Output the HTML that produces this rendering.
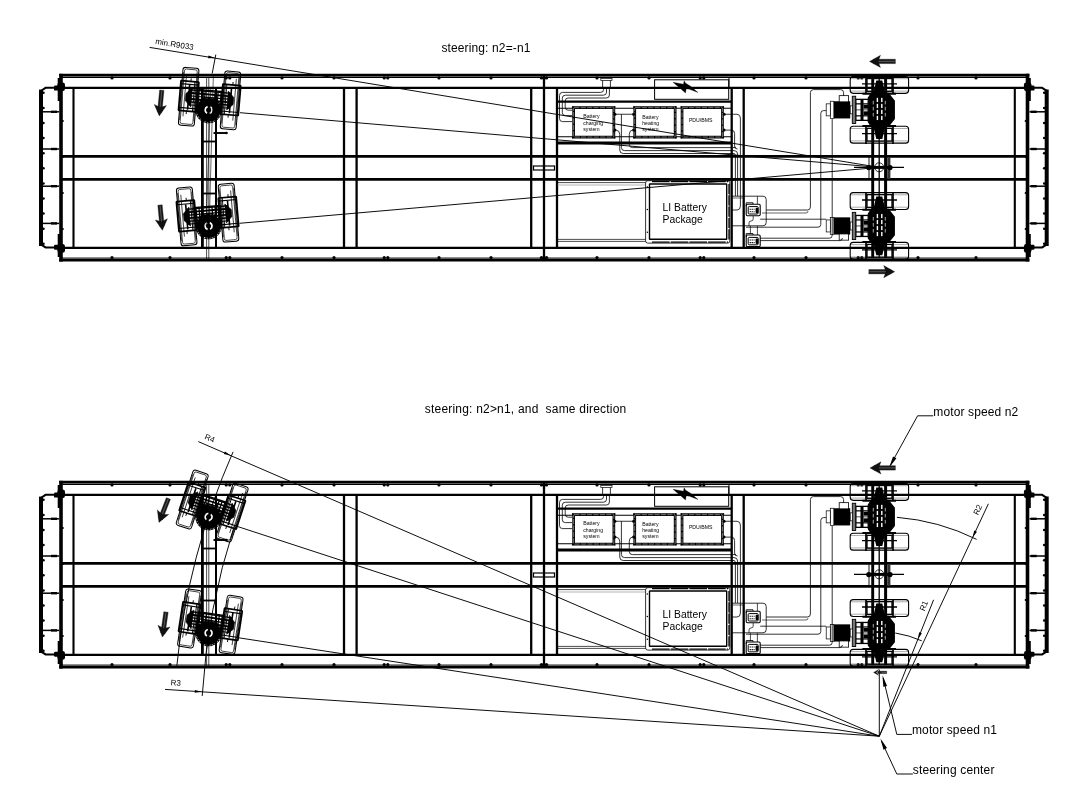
<!DOCTYPE html>
<html><head><meta charset="utf-8"><title>steering</title>
<style>html,body{margin:0;padding:0;background:#fff}svg{display:block;filter:grayscale(1)}</style></head>
<body>
<svg width="1080" height="795" viewBox="0 0 1080 795" font-family="'Liberation Sans', Arial, sans-serif" fill="#000">
<rect width="1080" height="795" fill="#fff"/>
<g transform="translate(0 0)">
<line x1="59.20" y1="75.10" x2="1029.40" y2="75.10" stroke="#000" stroke-width="2.6" />
<line x1="61.00" y1="77.30" x2="1027.50" y2="77.30" stroke="#000" stroke-width="1.2" />
<line x1="59.20" y1="260.30" x2="1029.40" y2="260.30" stroke="#000" stroke-width="2.6" />
<line x1="61.00" y1="258.10" x2="1027.50" y2="258.10" stroke="#222" stroke-width="1.2" />
<line x1="61.00" y1="73.80" x2="61.00" y2="261.60" stroke="#000" stroke-width="3.6" />
<line x1="1027.50" y1="73.80" x2="1027.50" y2="261.60" stroke="#000" stroke-width="3.6" />
<line x1="61.00" y1="87.85" x2="1027.50" y2="87.85" stroke="#000" stroke-width="2.2" />
<line x1="61.00" y1="247.95" x2="1027.50" y2="247.95" stroke="#000" stroke-width="2.2" />
<line x1="61.00" y1="156.40" x2="1027.50" y2="156.40" stroke="#000" stroke-width="2.9" />
<line x1="61.00" y1="179.40" x2="1027.50" y2="179.40" stroke="#000" stroke-width="2.9" />
<line x1="73.50" y1="87.85" x2="73.50" y2="247.95" stroke="#000" stroke-width="2.1" />
<line x1="1014.80" y1="87.85" x2="1014.80" y2="247.95" stroke="#000" stroke-width="2.1" />
<line x1="344.00" y1="87.85" x2="344.00" y2="247.95" stroke="#000" stroke-width="2.3" />
<line x1="356.60" y1="87.85" x2="356.60" y2="247.95" stroke="#000" stroke-width="2.3" />
<line x1="531.20" y1="87.85" x2="531.20" y2="247.95" stroke="#000" stroke-width="2.3" />
<line x1="557.00" y1="87.85" x2="557.00" y2="247.95" stroke="#000" stroke-width="2.3" />
<line x1="731.70" y1="87.85" x2="731.70" y2="247.95" stroke="#000" stroke-width="2.3" />
<line x1="743.70" y1="87.85" x2="743.70" y2="247.95" stroke="#000" stroke-width="2.3" />
<line x1="544.00" y1="75.60" x2="544.00" y2="260.00" stroke="#000" stroke-width="2.3" />
<circle cx="491.00" cy="77.90" r="1.6" fill="#000" stroke="#000" stroke-width="0"/>
<circle cx="491.00" cy="257.60" r="1.6" fill="#000" stroke="#000" stroke-width="0"/>
<circle cx="597.00" cy="77.90" r="1.6" fill="#000" stroke="#000" stroke-width="0"/>
<circle cx="597.00" cy="257.60" r="1.6" fill="#000" stroke="#000" stroke-width="0"/>
<circle cx="439.00" cy="77.90" r="1.6" fill="#000" stroke="#000" stroke-width="0"/>
<circle cx="439.00" cy="257.60" r="1.6" fill="#000" stroke="#000" stroke-width="0"/>
<circle cx="649.00" cy="77.90" r="1.6" fill="#000" stroke="#000" stroke-width="0"/>
<circle cx="649.00" cy="257.60" r="1.6" fill="#000" stroke="#000" stroke-width="0"/>
<circle cx="334.00" cy="77.90" r="1.6" fill="#000" stroke="#000" stroke-width="0"/>
<circle cx="334.00" cy="257.60" r="1.6" fill="#000" stroke="#000" stroke-width="0"/>
<circle cx="754.00" cy="77.90" r="1.6" fill="#000" stroke="#000" stroke-width="0"/>
<circle cx="754.00" cy="257.60" r="1.6" fill="#000" stroke="#000" stroke-width="0"/>
<circle cx="282.00" cy="77.90" r="1.6" fill="#000" stroke="#000" stroke-width="0"/>
<circle cx="282.00" cy="257.60" r="1.6" fill="#000" stroke="#000" stroke-width="0"/>
<circle cx="806.00" cy="77.90" r="1.6" fill="#000" stroke="#000" stroke-width="0"/>
<circle cx="806.00" cy="257.60" r="1.6" fill="#000" stroke="#000" stroke-width="0"/>
<circle cx="170.00" cy="77.90" r="1.6" fill="#000" stroke="#000" stroke-width="0"/>
<circle cx="170.00" cy="257.60" r="1.6" fill="#000" stroke="#000" stroke-width="0"/>
<circle cx="918.00" cy="77.90" r="1.6" fill="#000" stroke="#000" stroke-width="0"/>
<circle cx="918.00" cy="257.60" r="1.6" fill="#000" stroke="#000" stroke-width="0"/>
<circle cx="112.00" cy="77.90" r="1.6" fill="#000" stroke="#000" stroke-width="0"/>
<circle cx="112.00" cy="257.60" r="1.6" fill="#000" stroke="#000" stroke-width="0"/>
<circle cx="976.00" cy="77.90" r="1.6" fill="#000" stroke="#000" stroke-width="0"/>
<circle cx="976.00" cy="257.60" r="1.6" fill="#000" stroke="#000" stroke-width="0"/>
<circle cx="384.20" cy="77.90" r="1.6" fill="#000" stroke="#000" stroke-width="0"/>
<circle cx="387.80" cy="77.90" r="1.6" fill="#000" stroke="#000" stroke-width="0"/>
<circle cx="384.20" cy="257.60" r="1.6" fill="#000" stroke="#000" stroke-width="0"/>
<circle cx="387.80" cy="257.60" r="1.6" fill="#000" stroke="#000" stroke-width="0"/>
<circle cx="700.20" cy="77.90" r="1.6" fill="#000" stroke="#000" stroke-width="0"/>
<circle cx="703.80" cy="77.90" r="1.6" fill="#000" stroke="#000" stroke-width="0"/>
<circle cx="700.20" cy="257.60" r="1.6" fill="#000" stroke="#000" stroke-width="0"/>
<circle cx="703.80" cy="257.60" r="1.6" fill="#000" stroke="#000" stroke-width="0"/>
<circle cx="226.20" cy="77.90" r="1.6" fill="#000" stroke="#000" stroke-width="0"/>
<circle cx="229.80" cy="77.90" r="1.6" fill="#000" stroke="#000" stroke-width="0"/>
<circle cx="226.20" cy="257.60" r="1.6" fill="#000" stroke="#000" stroke-width="0"/>
<circle cx="229.80" cy="257.60" r="1.6" fill="#000" stroke="#000" stroke-width="0"/>
<circle cx="858.20" cy="77.90" r="1.6" fill="#000" stroke="#000" stroke-width="0"/>
<circle cx="861.80" cy="77.90" r="1.6" fill="#000" stroke="#000" stroke-width="0"/>
<circle cx="858.20" cy="257.60" r="1.6" fill="#000" stroke="#000" stroke-width="0"/>
<circle cx="861.80" cy="257.60" r="1.6" fill="#000" stroke="#000" stroke-width="0"/>
<circle cx="541.50" cy="77.90" r="1.7" fill="#000" stroke="#000" stroke-width="0"/>
<circle cx="546.50" cy="77.90" r="1.7" fill="#000" stroke="#000" stroke-width="0"/>
<circle cx="541.50" cy="257.60" r="1.7" fill="#000" stroke="#000" stroke-width="0"/>
<circle cx="546.50" cy="257.60" r="1.7" fill="#000" stroke="#000" stroke-width="0"/>
<line x1="41.00" y1="89.60" x2="41.00" y2="246.00" stroke="#000" stroke-width="4.0" />
<path d="M61,87.8 H45.6 L40.0,91.5" fill="none" stroke="#000" stroke-width="2.0" />
<path d="M61,247.4 H45.6 L40.0,243.8" fill="none" stroke="#000" stroke-width="2.0" />
<line x1="41.00" y1="111.80" x2="59.00" y2="111.80" stroke="#000" stroke-width="1.5" />
<line x1="51.00" y1="111.80" x2="57.00" y2="111.80" stroke="#000" stroke-width="2.4" />
<line x1="41.00" y1="149.00" x2="59.00" y2="149.00" stroke="#000" stroke-width="1.5" />
<line x1="51.00" y1="149.00" x2="57.00" y2="149.00" stroke="#000" stroke-width="2.4" />
<line x1="41.00" y1="186.20" x2="59.00" y2="186.20" stroke="#000" stroke-width="1.5" />
<line x1="51.00" y1="186.20" x2="57.00" y2="186.20" stroke="#000" stroke-width="2.4" />
<line x1="41.00" y1="223.40" x2="59.00" y2="223.40" stroke="#000" stroke-width="1.5" />
<line x1="51.00" y1="223.40" x2="57.00" y2="223.40" stroke="#000" stroke-width="2.4" />
<circle cx="43.50" cy="92.80" r="1.25" fill="#000" stroke="#000" stroke-width="0"/>
<circle cx="43.50" cy="107.90" r="1.25" fill="#000" stroke="#000" stroke-width="0"/>
<circle cx="43.50" cy="123.00" r="1.25" fill="#000" stroke="#000" stroke-width="0"/>
<circle cx="43.50" cy="138.10" r="1.25" fill="#000" stroke="#000" stroke-width="0"/>
<circle cx="43.50" cy="153.20" r="1.25" fill="#000" stroke="#000" stroke-width="0"/>
<circle cx="43.50" cy="168.30" r="1.25" fill="#000" stroke="#000" stroke-width="0"/>
<circle cx="43.50" cy="183.40" r="1.25" fill="#000" stroke="#000" stroke-width="0"/>
<circle cx="43.50" cy="198.50" r="1.25" fill="#000" stroke="#000" stroke-width="0"/>
<circle cx="43.50" cy="213.60" r="1.25" fill="#000" stroke="#000" stroke-width="0"/>
<circle cx="43.50" cy="228.70" r="1.25" fill="#000" stroke="#000" stroke-width="0"/>
<circle cx="43.50" cy="243.80" r="1.25" fill="#000" stroke="#000" stroke-width="0"/>
<circle cx="62.90" cy="121.00" r="1.0" fill="#000" stroke="#000" stroke-width="0"/>
<circle cx="62.90" cy="157.00" r="1.0" fill="#000" stroke="#000" stroke-width="0"/>
<circle cx="62.90" cy="193.00" r="1.0" fill="#000" stroke="#000" stroke-width="0"/>
<circle cx="62.90" cy="229.00" r="1.0" fill="#000" stroke="#000" stroke-width="0"/>
<rect x="57.40" y="82.40" width="7.60" height="8.80" rx="2.4" fill="#000" stroke="#000" stroke-width="0" />
<rect x="57.40" y="244.00" width="7.60" height="8.80" rx="2.4" fill="#000" stroke="#000" stroke-width="0" />
<rect x="54.00" y="85.60" width="6.00" height="5.00" rx="1.2" fill="#000" stroke="#000" stroke-width="0" />
<rect x="54.00" y="244.80" width="6.00" height="5.00" rx="1.2" fill="#000" stroke="#000" stroke-width="0" />
<line x1="59.80" y1="78.00" x2="59.80" y2="101.00" stroke="#000" stroke-width="4.2" />
<line x1="59.80" y1="234.00" x2="59.80" y2="257.00" stroke="#000" stroke-width="4.2" />
<line x1="1046.70" y1="89.60" x2="1046.70" y2="246.00" stroke="#000" stroke-width="4.0" />
<path d="M1027.5,87.8 H1042.1000000000001 L1047.7,91.5" fill="none" stroke="#000" stroke-width="2.0" />
<path d="M1027.5,247.4 H1042.1000000000001 L1047.7,243.8" fill="none" stroke="#000" stroke-width="2.0" />
<line x1="1046.70" y1="111.80" x2="1029.50" y2="111.80" stroke="#000" stroke-width="1.5" />
<line x1="1036.70" y1="111.80" x2="1030.70" y2="111.80" stroke="#000" stroke-width="2.4" />
<line x1="1046.70" y1="149.00" x2="1029.50" y2="149.00" stroke="#000" stroke-width="1.5" />
<line x1="1036.70" y1="149.00" x2="1030.70" y2="149.00" stroke="#000" stroke-width="2.4" />
<line x1="1046.70" y1="186.20" x2="1029.50" y2="186.20" stroke="#000" stroke-width="1.5" />
<line x1="1036.70" y1="186.20" x2="1030.70" y2="186.20" stroke="#000" stroke-width="2.4" />
<line x1="1046.70" y1="223.40" x2="1029.50" y2="223.40" stroke="#000" stroke-width="1.5" />
<line x1="1036.70" y1="223.40" x2="1030.70" y2="223.40" stroke="#000" stroke-width="2.4" />
<circle cx="1044.20" cy="92.80" r="1.25" fill="#000" stroke="#000" stroke-width="0"/>
<circle cx="1044.20" cy="107.90" r="1.25" fill="#000" stroke="#000" stroke-width="0"/>
<circle cx="1044.20" cy="123.00" r="1.25" fill="#000" stroke="#000" stroke-width="0"/>
<circle cx="1044.20" cy="138.10" r="1.25" fill="#000" stroke="#000" stroke-width="0"/>
<circle cx="1044.20" cy="153.20" r="1.25" fill="#000" stroke="#000" stroke-width="0"/>
<circle cx="1044.20" cy="168.30" r="1.25" fill="#000" stroke="#000" stroke-width="0"/>
<circle cx="1044.20" cy="183.40" r="1.25" fill="#000" stroke="#000" stroke-width="0"/>
<circle cx="1044.20" cy="198.50" r="1.25" fill="#000" stroke="#000" stroke-width="0"/>
<circle cx="1044.20" cy="213.60" r="1.25" fill="#000" stroke="#000" stroke-width="0"/>
<circle cx="1044.20" cy="228.70" r="1.25" fill="#000" stroke="#000" stroke-width="0"/>
<circle cx="1044.20" cy="243.80" r="1.25" fill="#000" stroke="#000" stroke-width="0"/>
<circle cx="1025.60" cy="121.00" r="1.0" fill="#000" stroke="#000" stroke-width="0"/>
<circle cx="1025.60" cy="157.00" r="1.0" fill="#000" stroke="#000" stroke-width="0"/>
<circle cx="1025.60" cy="193.00" r="1.0" fill="#000" stroke="#000" stroke-width="0"/>
<circle cx="1025.60" cy="229.00" r="1.0" fill="#000" stroke="#000" stroke-width="0"/>
<rect x="1023.90" y="82.40" width="7.60" height="8.80" rx="2.4" fill="#000" stroke="#000" stroke-width="0" />
<rect x="1023.90" y="244.00" width="7.60" height="8.80" rx="2.4" fill="#000" stroke="#000" stroke-width="0" />
<rect x="1028.50" y="85.60" width="6.00" height="5.00" rx="1.2" fill="#000" stroke="#000" stroke-width="0" />
<rect x="1028.50" y="244.80" width="6.00" height="5.00" rx="1.2" fill="#000" stroke="#000" stroke-width="0" />
<line x1="1028.70" y1="78.00" x2="1028.70" y2="101.00" stroke="#000" stroke-width="4.2" />
<line x1="1028.70" y1="234.00" x2="1028.70" y2="257.00" stroke="#000" stroke-width="4.2" />
<rect x="533.50" y="166.00" width="21.00" height="4.00" rx="0" fill="none" stroke="#000" stroke-width="1.2" />
</g>
<g transform="translate(0 407)">
<line x1="59.20" y1="75.10" x2="1029.40" y2="75.10" stroke="#000" stroke-width="2.6" />
<line x1="61.00" y1="77.30" x2="1027.50" y2="77.30" stroke="#000" stroke-width="1.2" />
<line x1="59.20" y1="260.30" x2="1029.40" y2="260.30" stroke="#000" stroke-width="2.6" />
<line x1="61.00" y1="258.10" x2="1027.50" y2="258.10" stroke="#222" stroke-width="1.2" />
<line x1="61.00" y1="73.80" x2="61.00" y2="261.60" stroke="#000" stroke-width="3.6" />
<line x1="1027.50" y1="73.80" x2="1027.50" y2="261.60" stroke="#000" stroke-width="3.6" />
<line x1="61.00" y1="87.85" x2="1027.50" y2="87.85" stroke="#000" stroke-width="2.2" />
<line x1="61.00" y1="247.95" x2="1027.50" y2="247.95" stroke="#000" stroke-width="2.2" />
<line x1="61.00" y1="156.40" x2="1027.50" y2="156.40" stroke="#000" stroke-width="2.9" />
<line x1="61.00" y1="179.40" x2="1027.50" y2="179.40" stroke="#000" stroke-width="2.9" />
<line x1="73.50" y1="87.85" x2="73.50" y2="247.95" stroke="#000" stroke-width="2.1" />
<line x1="1014.80" y1="87.85" x2="1014.80" y2="247.95" stroke="#000" stroke-width="2.1" />
<line x1="344.00" y1="87.85" x2="344.00" y2="247.95" stroke="#000" stroke-width="2.3" />
<line x1="356.60" y1="87.85" x2="356.60" y2="247.95" stroke="#000" stroke-width="2.3" />
<line x1="531.20" y1="87.85" x2="531.20" y2="247.95" stroke="#000" stroke-width="2.3" />
<line x1="557.00" y1="87.85" x2="557.00" y2="247.95" stroke="#000" stroke-width="2.3" />
<line x1="731.70" y1="87.85" x2="731.70" y2="247.95" stroke="#000" stroke-width="2.3" />
<line x1="743.70" y1="87.85" x2="743.70" y2="247.95" stroke="#000" stroke-width="2.3" />
<line x1="544.00" y1="75.60" x2="544.00" y2="260.00" stroke="#000" stroke-width="2.3" />
<circle cx="491.00" cy="77.90" r="1.6" fill="#000" stroke="#000" stroke-width="0"/>
<circle cx="491.00" cy="257.60" r="1.6" fill="#000" stroke="#000" stroke-width="0"/>
<circle cx="597.00" cy="77.90" r="1.6" fill="#000" stroke="#000" stroke-width="0"/>
<circle cx="597.00" cy="257.60" r="1.6" fill="#000" stroke="#000" stroke-width="0"/>
<circle cx="439.00" cy="77.90" r="1.6" fill="#000" stroke="#000" stroke-width="0"/>
<circle cx="439.00" cy="257.60" r="1.6" fill="#000" stroke="#000" stroke-width="0"/>
<circle cx="649.00" cy="77.90" r="1.6" fill="#000" stroke="#000" stroke-width="0"/>
<circle cx="649.00" cy="257.60" r="1.6" fill="#000" stroke="#000" stroke-width="0"/>
<circle cx="334.00" cy="77.90" r="1.6" fill="#000" stroke="#000" stroke-width="0"/>
<circle cx="334.00" cy="257.60" r="1.6" fill="#000" stroke="#000" stroke-width="0"/>
<circle cx="754.00" cy="77.90" r="1.6" fill="#000" stroke="#000" stroke-width="0"/>
<circle cx="754.00" cy="257.60" r="1.6" fill="#000" stroke="#000" stroke-width="0"/>
<circle cx="282.00" cy="77.90" r="1.6" fill="#000" stroke="#000" stroke-width="0"/>
<circle cx="282.00" cy="257.60" r="1.6" fill="#000" stroke="#000" stroke-width="0"/>
<circle cx="806.00" cy="77.90" r="1.6" fill="#000" stroke="#000" stroke-width="0"/>
<circle cx="806.00" cy="257.60" r="1.6" fill="#000" stroke="#000" stroke-width="0"/>
<circle cx="170.00" cy="77.90" r="1.6" fill="#000" stroke="#000" stroke-width="0"/>
<circle cx="170.00" cy="257.60" r="1.6" fill="#000" stroke="#000" stroke-width="0"/>
<circle cx="918.00" cy="77.90" r="1.6" fill="#000" stroke="#000" stroke-width="0"/>
<circle cx="918.00" cy="257.60" r="1.6" fill="#000" stroke="#000" stroke-width="0"/>
<circle cx="112.00" cy="77.90" r="1.6" fill="#000" stroke="#000" stroke-width="0"/>
<circle cx="112.00" cy="257.60" r="1.6" fill="#000" stroke="#000" stroke-width="0"/>
<circle cx="976.00" cy="77.90" r="1.6" fill="#000" stroke="#000" stroke-width="0"/>
<circle cx="976.00" cy="257.60" r="1.6" fill="#000" stroke="#000" stroke-width="0"/>
<circle cx="384.20" cy="77.90" r="1.6" fill="#000" stroke="#000" stroke-width="0"/>
<circle cx="387.80" cy="77.90" r="1.6" fill="#000" stroke="#000" stroke-width="0"/>
<circle cx="384.20" cy="257.60" r="1.6" fill="#000" stroke="#000" stroke-width="0"/>
<circle cx="387.80" cy="257.60" r="1.6" fill="#000" stroke="#000" stroke-width="0"/>
<circle cx="700.20" cy="77.90" r="1.6" fill="#000" stroke="#000" stroke-width="0"/>
<circle cx="703.80" cy="77.90" r="1.6" fill="#000" stroke="#000" stroke-width="0"/>
<circle cx="700.20" cy="257.60" r="1.6" fill="#000" stroke="#000" stroke-width="0"/>
<circle cx="703.80" cy="257.60" r="1.6" fill="#000" stroke="#000" stroke-width="0"/>
<circle cx="226.20" cy="77.90" r="1.6" fill="#000" stroke="#000" stroke-width="0"/>
<circle cx="229.80" cy="77.90" r="1.6" fill="#000" stroke="#000" stroke-width="0"/>
<circle cx="226.20" cy="257.60" r="1.6" fill="#000" stroke="#000" stroke-width="0"/>
<circle cx="229.80" cy="257.60" r="1.6" fill="#000" stroke="#000" stroke-width="0"/>
<circle cx="858.20" cy="77.90" r="1.6" fill="#000" stroke="#000" stroke-width="0"/>
<circle cx="861.80" cy="77.90" r="1.6" fill="#000" stroke="#000" stroke-width="0"/>
<circle cx="858.20" cy="257.60" r="1.6" fill="#000" stroke="#000" stroke-width="0"/>
<circle cx="861.80" cy="257.60" r="1.6" fill="#000" stroke="#000" stroke-width="0"/>
<circle cx="541.50" cy="77.90" r="1.7" fill="#000" stroke="#000" stroke-width="0"/>
<circle cx="546.50" cy="77.90" r="1.7" fill="#000" stroke="#000" stroke-width="0"/>
<circle cx="541.50" cy="257.60" r="1.7" fill="#000" stroke="#000" stroke-width="0"/>
<circle cx="546.50" cy="257.60" r="1.7" fill="#000" stroke="#000" stroke-width="0"/>
<line x1="41.00" y1="89.60" x2="41.00" y2="246.00" stroke="#000" stroke-width="4.0" />
<path d="M61,87.8 H45.6 L40.0,91.5" fill="none" stroke="#000" stroke-width="2.0" />
<path d="M61,247.4 H45.6 L40.0,243.8" fill="none" stroke="#000" stroke-width="2.0" />
<line x1="41.00" y1="111.80" x2="59.00" y2="111.80" stroke="#000" stroke-width="1.5" />
<line x1="51.00" y1="111.80" x2="57.00" y2="111.80" stroke="#000" stroke-width="2.4" />
<line x1="41.00" y1="149.00" x2="59.00" y2="149.00" stroke="#000" stroke-width="1.5" />
<line x1="51.00" y1="149.00" x2="57.00" y2="149.00" stroke="#000" stroke-width="2.4" />
<line x1="41.00" y1="186.20" x2="59.00" y2="186.20" stroke="#000" stroke-width="1.5" />
<line x1="51.00" y1="186.20" x2="57.00" y2="186.20" stroke="#000" stroke-width="2.4" />
<line x1="41.00" y1="223.40" x2="59.00" y2="223.40" stroke="#000" stroke-width="1.5" />
<line x1="51.00" y1="223.40" x2="57.00" y2="223.40" stroke="#000" stroke-width="2.4" />
<circle cx="43.50" cy="92.80" r="1.25" fill="#000" stroke="#000" stroke-width="0"/>
<circle cx="43.50" cy="107.90" r="1.25" fill="#000" stroke="#000" stroke-width="0"/>
<circle cx="43.50" cy="123.00" r="1.25" fill="#000" stroke="#000" stroke-width="0"/>
<circle cx="43.50" cy="138.10" r="1.25" fill="#000" stroke="#000" stroke-width="0"/>
<circle cx="43.50" cy="153.20" r="1.25" fill="#000" stroke="#000" stroke-width="0"/>
<circle cx="43.50" cy="168.30" r="1.25" fill="#000" stroke="#000" stroke-width="0"/>
<circle cx="43.50" cy="183.40" r="1.25" fill="#000" stroke="#000" stroke-width="0"/>
<circle cx="43.50" cy="198.50" r="1.25" fill="#000" stroke="#000" stroke-width="0"/>
<circle cx="43.50" cy="213.60" r="1.25" fill="#000" stroke="#000" stroke-width="0"/>
<circle cx="43.50" cy="228.70" r="1.25" fill="#000" stroke="#000" stroke-width="0"/>
<circle cx="43.50" cy="243.80" r="1.25" fill="#000" stroke="#000" stroke-width="0"/>
<circle cx="62.90" cy="121.00" r="1.0" fill="#000" stroke="#000" stroke-width="0"/>
<circle cx="62.90" cy="157.00" r="1.0" fill="#000" stroke="#000" stroke-width="0"/>
<circle cx="62.90" cy="193.00" r="1.0" fill="#000" stroke="#000" stroke-width="0"/>
<circle cx="62.90" cy="229.00" r="1.0" fill="#000" stroke="#000" stroke-width="0"/>
<rect x="57.40" y="82.40" width="7.60" height="8.80" rx="2.4" fill="#000" stroke="#000" stroke-width="0" />
<rect x="57.40" y="244.00" width="7.60" height="8.80" rx="2.4" fill="#000" stroke="#000" stroke-width="0" />
<rect x="54.00" y="85.60" width="6.00" height="5.00" rx="1.2" fill="#000" stroke="#000" stroke-width="0" />
<rect x="54.00" y="244.80" width="6.00" height="5.00" rx="1.2" fill="#000" stroke="#000" stroke-width="0" />
<line x1="59.80" y1="78.00" x2="59.80" y2="101.00" stroke="#000" stroke-width="4.2" />
<line x1="59.80" y1="234.00" x2="59.80" y2="257.00" stroke="#000" stroke-width="4.2" />
<line x1="1046.70" y1="89.60" x2="1046.70" y2="246.00" stroke="#000" stroke-width="4.0" />
<path d="M1027.5,87.8 H1042.1000000000001 L1047.7,91.5" fill="none" stroke="#000" stroke-width="2.0" />
<path d="M1027.5,247.4 H1042.1000000000001 L1047.7,243.8" fill="none" stroke="#000" stroke-width="2.0" />
<line x1="1046.70" y1="111.80" x2="1029.50" y2="111.80" stroke="#000" stroke-width="1.5" />
<line x1="1036.70" y1="111.80" x2="1030.70" y2="111.80" stroke="#000" stroke-width="2.4" />
<line x1="1046.70" y1="149.00" x2="1029.50" y2="149.00" stroke="#000" stroke-width="1.5" />
<line x1="1036.70" y1="149.00" x2="1030.70" y2="149.00" stroke="#000" stroke-width="2.4" />
<line x1="1046.70" y1="186.20" x2="1029.50" y2="186.20" stroke="#000" stroke-width="1.5" />
<line x1="1036.70" y1="186.20" x2="1030.70" y2="186.20" stroke="#000" stroke-width="2.4" />
<line x1="1046.70" y1="223.40" x2="1029.50" y2="223.40" stroke="#000" stroke-width="1.5" />
<line x1="1036.70" y1="223.40" x2="1030.70" y2="223.40" stroke="#000" stroke-width="2.4" />
<circle cx="1044.20" cy="92.80" r="1.25" fill="#000" stroke="#000" stroke-width="0"/>
<circle cx="1044.20" cy="107.90" r="1.25" fill="#000" stroke="#000" stroke-width="0"/>
<circle cx="1044.20" cy="123.00" r="1.25" fill="#000" stroke="#000" stroke-width="0"/>
<circle cx="1044.20" cy="138.10" r="1.25" fill="#000" stroke="#000" stroke-width="0"/>
<circle cx="1044.20" cy="153.20" r="1.25" fill="#000" stroke="#000" stroke-width="0"/>
<circle cx="1044.20" cy="168.30" r="1.25" fill="#000" stroke="#000" stroke-width="0"/>
<circle cx="1044.20" cy="183.40" r="1.25" fill="#000" stroke="#000" stroke-width="0"/>
<circle cx="1044.20" cy="198.50" r="1.25" fill="#000" stroke="#000" stroke-width="0"/>
<circle cx="1044.20" cy="213.60" r="1.25" fill="#000" stroke="#000" stroke-width="0"/>
<circle cx="1044.20" cy="228.70" r="1.25" fill="#000" stroke="#000" stroke-width="0"/>
<circle cx="1044.20" cy="243.80" r="1.25" fill="#000" stroke="#000" stroke-width="0"/>
<circle cx="1025.60" cy="121.00" r="1.0" fill="#000" stroke="#000" stroke-width="0"/>
<circle cx="1025.60" cy="157.00" r="1.0" fill="#000" stroke="#000" stroke-width="0"/>
<circle cx="1025.60" cy="193.00" r="1.0" fill="#000" stroke="#000" stroke-width="0"/>
<circle cx="1025.60" cy="229.00" r="1.0" fill="#000" stroke="#000" stroke-width="0"/>
<rect x="1023.90" y="82.40" width="7.60" height="8.80" rx="2.4" fill="#000" stroke="#000" stroke-width="0" />
<rect x="1023.90" y="244.00" width="7.60" height="8.80" rx="2.4" fill="#000" stroke="#000" stroke-width="0" />
<rect x="1028.50" y="85.60" width="6.00" height="5.00" rx="1.2" fill="#000" stroke="#000" stroke-width="0" />
<rect x="1028.50" y="244.80" width="6.00" height="5.00" rx="1.2" fill="#000" stroke="#000" stroke-width="0" />
<line x1="1028.70" y1="78.00" x2="1028.70" y2="101.00" stroke="#000" stroke-width="4.2" />
<line x1="1028.70" y1="234.00" x2="1028.70" y2="257.00" stroke="#000" stroke-width="4.2" />
<rect x="533.50" y="166.00" width="21.00" height="4.00" rx="0" fill="none" stroke="#000" stroke-width="1.2" />
</g>
<g transform="translate(0 0)">
<line x1="202.40" y1="87.00" x2="202.40" y2="247.80" stroke="#000" stroke-width="2.8" />
<line x1="216.00" y1="87.00" x2="216.00" y2="247.80" stroke="#000" stroke-width="2.0" />
<line x1="206.60" y1="77.00" x2="206.60" y2="259.00" stroke="#000" stroke-width="0.7" />
<line x1="208.80" y1="77.00" x2="208.80" y2="259.00" stroke="#000" stroke-width="0.7" />
<line x1="203.00" y1="141.50" x2="216.00" y2="141.50" stroke="#000" stroke-width="1.8" />
<line x1="203.00" y1="193.50" x2="216.00" y2="193.50" stroke="#000" stroke-width="1.8" />
<line x1="213.50" y1="133.00" x2="227.00" y2="133.00" stroke="#000" stroke-width="1.9" />
<circle cx="226.50" cy="133.00" r="1.3" fill="#000" stroke="#000" stroke-width="0"/>
</g>
<g transform="translate(0 0)">
<line x1="872.70" y1="78.00" x2="872.70" y2="258.00" stroke="#000" stroke-width="2.9" />
<line x1="879.20" y1="78.00" x2="879.20" y2="258.00" stroke="#000" stroke-width="1.3" />
<line x1="885.60" y1="78.00" x2="885.60" y2="258.00" stroke="#000" stroke-width="3.0" />
<rect x="850.20" y="76.50" width="58.40" height="16.85" rx="3" fill="none" stroke="#000" stroke-width="1.1" />
<line x1="851.00" y1="78.70" x2="907.80" y2="78.70" stroke="#555" stroke-width="0.5" />
<line x1="851.00" y1="91.10" x2="907.80" y2="91.10" stroke="#555" stroke-width="0.5" />
<line x1="866.00" y1="76.00" x2="866.00" y2="94.10" stroke="#000" stroke-width="1.7" />
<line x1="893.00" y1="76.00" x2="893.00" y2="94.10" stroke="#000" stroke-width="1.7" />
<line x1="862.00" y1="83.90" x2="897.00" y2="83.90" stroke="#000" stroke-width="1.3" />
<line x1="862.40" y1="93.70" x2="896.00" y2="93.70" stroke="#000" stroke-width="2.0" />
<rect x="867.00" y="78.50" width="25.00" height="12.80" rx="0" fill="none" stroke="#000" stroke-width="1.3" />
<path d="M873.3,93.35 L876.3,80.5 H882.3 L885.3,93.35 Z" fill="#000" stroke="#000" stroke-width="0" />
<rect x="850.20" y="126.30" width="58.40" height="16.85" rx="3" fill="none" stroke="#000" stroke-width="1.1" />
<line x1="851.00" y1="128.50" x2="907.80" y2="128.50" stroke="#555" stroke-width="0.5" />
<line x1="851.00" y1="140.90" x2="907.80" y2="140.90" stroke="#555" stroke-width="0.5" />
<line x1="866.00" y1="125.80" x2="866.00" y2="143.90" stroke="#000" stroke-width="1.7" />
<line x1="893.00" y1="125.80" x2="893.00" y2="143.90" stroke="#000" stroke-width="1.7" />
<line x1="862.00" y1="133.70" x2="897.00" y2="133.70" stroke="#000" stroke-width="1.3" />
<line x1="862.40" y1="126.00" x2="896.00" y2="126.00" stroke="#000" stroke-width="2.0" />
<rect x="867.00" y="128.30" width="25.00" height="12.80" rx="0" fill="none" stroke="#000" stroke-width="1.3" />
<path d="M873.3,126.3 L876.3,139.1 H882.3 L885.3,126.3 Z" fill="#000" stroke="#000" stroke-width="0" />
<path d="M871.3,93.35 H888.3 L894.3,100.85 V118.85 L888.3,126.35 H871.3 L868.3,121.85 V97.85 Z" fill="#000" stroke="#000" stroke-width="1.2" />
<rect x="876.70" y="97.85" width="1.40" height="4.20" rx="0" fill="#fff" stroke="#000" stroke-width="0" />
<rect x="876.70" y="103.85" width="1.40" height="4.20" rx="0" fill="#fff" stroke="#000" stroke-width="0" />
<rect x="876.70" y="109.85" width="1.40" height="4.20" rx="0" fill="#fff" stroke="#000" stroke-width="0" />
<rect x="876.70" y="115.85" width="1.40" height="4.20" rx="0" fill="#fff" stroke="#000" stroke-width="0" />
<rect x="881.10" y="97.85" width="1.40" height="4.20" rx="0" fill="#fff" stroke="#000" stroke-width="0" />
<rect x="881.10" y="103.85" width="1.40" height="4.20" rx="0" fill="#fff" stroke="#000" stroke-width="0" />
<rect x="881.10" y="109.85" width="1.40" height="4.20" rx="0" fill="#fff" stroke="#000" stroke-width="0" />
<rect x="881.10" y="115.85" width="1.40" height="4.20" rx="0" fill="#fff" stroke="#000" stroke-width="0" />
<rect x="872.80" y="100.85" width="0.90" height="3.60" rx="0" fill="#bbb" stroke="#000" stroke-width="0" />
<rect x="872.80" y="106.85" width="0.90" height="3.60" rx="0" fill="#bbb" stroke="#000" stroke-width="0" />
<rect x="872.80" y="112.85" width="0.90" height="3.60" rx="0" fill="#bbb" stroke="#000" stroke-width="0" />
<rect x="884.80" y="100.85" width="0.90" height="3.60" rx="0" fill="#bbb" stroke="#000" stroke-width="0" />
<rect x="884.80" y="106.85" width="0.90" height="3.60" rx="0" fill="#bbb" stroke="#000" stroke-width="0" />
<rect x="884.80" y="112.85" width="0.90" height="3.60" rx="0" fill="#bbb" stroke="#000" stroke-width="0" />
<rect x="855.80" y="99.35" width="12.40" height="21.00" rx="0" fill="#fff" stroke="#000" stroke-width="1.3" />
<line x1="855.80" y1="103.85" x2="868.00" y2="103.85" stroke="#000" stroke-width="1.2" />
<line x1="855.80" y1="115.85" x2="868.00" y2="115.85" stroke="#000" stroke-width="1.2" />
<line x1="855.80" y1="109.85" x2="868.00" y2="109.85" stroke="#000" stroke-width="0.7" />
<rect x="860.50" y="99.35" width="3.00" height="21.00" rx="0" fill="#000" stroke="#000" stroke-width="0" />
<rect x="863.50" y="104.85" width="4.50" height="3.80" rx="0" fill="#000" stroke="#000" stroke-width="0" />
<rect x="863.50" y="111.35" width="4.50" height="3.80" rx="0" fill="#000" stroke="#000" stroke-width="0" />
<rect x="852.30" y="96.25" width="3.40" height="27.20" rx="0" fill="#777" stroke="#000" stroke-width="0.9" />
<rect x="850.20" y="105.85" width="2.20" height="8.00" rx="0" fill="#fff" stroke="#000" stroke-width="0.7" />
<rect x="833.80" y="101.25" width="16.40" height="17.20" rx="0" fill="#000" stroke="#000" stroke-width="0" />
<rect x="830.30" y="101.25" width="3.50" height="17.20" rx="0" fill="#fff" stroke="#000" stroke-width="0.7" />
<rect x="826.20" y="103.85" width="4.10" height="12.00" rx="0" fill="#fff" stroke="#000" stroke-width="0.7" />
<rect x="839.20" y="95.65" width="9.40" height="6.20" rx="0" fill="#fff" stroke="#000" stroke-width="0.8" />
<rect x="850.20" y="192.60" width="58.40" height="16.85" rx="3" fill="none" stroke="#000" stroke-width="1.1" />
<line x1="851.00" y1="194.80" x2="907.80" y2="194.80" stroke="#555" stroke-width="0.5" />
<line x1="851.00" y1="207.20" x2="907.80" y2="207.20" stroke="#555" stroke-width="0.5" />
<line x1="866.00" y1="192.10" x2="866.00" y2="210.20" stroke="#000" stroke-width="1.7" />
<line x1="893.00" y1="192.10" x2="893.00" y2="210.20" stroke="#000" stroke-width="1.7" />
<line x1="862.00" y1="200.00" x2="897.00" y2="200.00" stroke="#000" stroke-width="1.3" />
<line x1="862.40" y1="209.80" x2="896.00" y2="209.80" stroke="#000" stroke-width="2.0" />
<rect x="867.00" y="194.60" width="25.00" height="12.80" rx="0" fill="none" stroke="#000" stroke-width="1.3" />
<path d="M873.3,209.45 L876.3,196.6 H882.3 L885.3,209.45 Z" fill="#000" stroke="#000" stroke-width="0" />
<rect x="850.20" y="242.40" width="58.40" height="16.85" rx="3" fill="none" stroke="#000" stroke-width="1.1" />
<line x1="851.00" y1="244.60" x2="907.80" y2="244.60" stroke="#555" stroke-width="0.5" />
<line x1="851.00" y1="257.00" x2="907.80" y2="257.00" stroke="#555" stroke-width="0.5" />
<line x1="866.00" y1="241.90" x2="866.00" y2="260.00" stroke="#000" stroke-width="1.7" />
<line x1="893.00" y1="241.90" x2="893.00" y2="260.00" stroke="#000" stroke-width="1.7" />
<line x1="862.00" y1="249.80" x2="897.00" y2="249.80" stroke="#000" stroke-width="1.3" />
<line x1="862.40" y1="242.10" x2="896.00" y2="242.10" stroke="#000" stroke-width="2.0" />
<rect x="867.00" y="244.40" width="25.00" height="12.80" rx="0" fill="none" stroke="#000" stroke-width="1.3" />
<path d="M873.3,242.39999999999998 L876.3,255.2 H882.3 L885.3,242.39999999999998 Z" fill="#000" stroke="#000" stroke-width="0" />
<path d="M871.3,209.45 H888.3 L894.3,216.95 V234.95 L888.3,242.45 H871.3 L868.3,237.95 V213.95 Z" fill="#000" stroke="#000" stroke-width="1.2" />
<rect x="876.70" y="213.95" width="1.40" height="4.20" rx="0" fill="#fff" stroke="#000" stroke-width="0" />
<rect x="876.70" y="219.95" width="1.40" height="4.20" rx="0" fill="#fff" stroke="#000" stroke-width="0" />
<rect x="876.70" y="225.95" width="1.40" height="4.20" rx="0" fill="#fff" stroke="#000" stroke-width="0" />
<rect x="876.70" y="231.95" width="1.40" height="4.20" rx="0" fill="#fff" stroke="#000" stroke-width="0" />
<rect x="881.10" y="213.95" width="1.40" height="4.20" rx="0" fill="#fff" stroke="#000" stroke-width="0" />
<rect x="881.10" y="219.95" width="1.40" height="4.20" rx="0" fill="#fff" stroke="#000" stroke-width="0" />
<rect x="881.10" y="225.95" width="1.40" height="4.20" rx="0" fill="#fff" stroke="#000" stroke-width="0" />
<rect x="881.10" y="231.95" width="1.40" height="4.20" rx="0" fill="#fff" stroke="#000" stroke-width="0" />
<rect x="872.80" y="216.95" width="0.90" height="3.60" rx="0" fill="#bbb" stroke="#000" stroke-width="0" />
<rect x="872.80" y="222.95" width="0.90" height="3.60" rx="0" fill="#bbb" stroke="#000" stroke-width="0" />
<rect x="872.80" y="228.95" width="0.90" height="3.60" rx="0" fill="#bbb" stroke="#000" stroke-width="0" />
<rect x="884.80" y="216.95" width="0.90" height="3.60" rx="0" fill="#bbb" stroke="#000" stroke-width="0" />
<rect x="884.80" y="222.95" width="0.90" height="3.60" rx="0" fill="#bbb" stroke="#000" stroke-width="0" />
<rect x="884.80" y="228.95" width="0.90" height="3.60" rx="0" fill="#bbb" stroke="#000" stroke-width="0" />
<rect x="855.80" y="215.45" width="12.40" height="21.00" rx="0" fill="#fff" stroke="#000" stroke-width="1.3" />
<line x1="855.80" y1="219.95" x2="868.00" y2="219.95" stroke="#000" stroke-width="1.2" />
<line x1="855.80" y1="231.95" x2="868.00" y2="231.95" stroke="#000" stroke-width="1.2" />
<line x1="855.80" y1="225.95" x2="868.00" y2="225.95" stroke="#000" stroke-width="0.7" />
<rect x="860.50" y="215.45" width="3.00" height="21.00" rx="0" fill="#000" stroke="#000" stroke-width="0" />
<rect x="863.50" y="220.95" width="4.50" height="3.80" rx="0" fill="#000" stroke="#000" stroke-width="0" />
<rect x="863.50" y="227.45" width="4.50" height="3.80" rx="0" fill="#000" stroke="#000" stroke-width="0" />
<rect x="852.30" y="212.35" width="3.40" height="27.20" rx="0" fill="#777" stroke="#000" stroke-width="0.9" />
<rect x="850.20" y="221.95" width="2.20" height="8.00" rx="0" fill="#fff" stroke="#000" stroke-width="0.7" />
<rect x="833.80" y="217.35" width="16.40" height="17.20" rx="0" fill="#000" stroke="#000" stroke-width="0" />
<rect x="830.30" y="217.35" width="3.50" height="17.20" rx="0" fill="#fff" stroke="#000" stroke-width="0.7" />
<rect x="826.20" y="219.95" width="4.10" height="12.00" rx="0" fill="#fff" stroke="#000" stroke-width="0.7" />
<rect x="839.20" y="233.95" width="9.40" height="6.20" rx="0" fill="#fff" stroke="#000" stroke-width="0.8" />
<line x1="869.00" y1="157.00" x2="869.00" y2="179.00" stroke="#000" stroke-width="0.9" />
<line x1="888.80" y1="157.00" x2="888.80" y2="179.00" stroke="#333" stroke-width="3.2" />
<line x1="854.00" y1="167.40" x2="904.00" y2="167.40" stroke="#000" stroke-width="1.3" />
<line x1="867.00" y1="167.40" x2="892.00" y2="167.40" stroke="#000" stroke-width="3.0" />
<circle cx="868.80" cy="167.60" r="2.6" fill="#000" stroke="#000" stroke-width="0"/>
<circle cx="890.00" cy="167.60" r="2.6" fill="#000" stroke="#000" stroke-width="0"/>
<circle cx="879.20" cy="167.30" r="4.5" fill="none" stroke="#000" stroke-width="0.8"/>
</g>
<g transform="translate(0 407)">
<line x1="202.40" y1="87.00" x2="202.40" y2="247.80" stroke="#000" stroke-width="2.8" />
<line x1="216.00" y1="87.00" x2="216.00" y2="247.80" stroke="#000" stroke-width="2.0" />
<line x1="206.60" y1="77.00" x2="206.60" y2="259.00" stroke="#000" stroke-width="0.7" />
<line x1="208.80" y1="77.00" x2="208.80" y2="259.00" stroke="#000" stroke-width="0.7" />
<line x1="203.00" y1="141.50" x2="216.00" y2="141.50" stroke="#000" stroke-width="1.8" />
<line x1="203.00" y1="193.50" x2="216.00" y2="193.50" stroke="#000" stroke-width="1.8" />
<line x1="213.50" y1="133.00" x2="227.00" y2="133.00" stroke="#000" stroke-width="1.9" />
<circle cx="226.50" cy="133.00" r="1.3" fill="#000" stroke="#000" stroke-width="0"/>
</g>
<g transform="translate(0 407)">
<line x1="872.70" y1="78.00" x2="872.70" y2="258.00" stroke="#000" stroke-width="2.9" />
<line x1="879.20" y1="78.00" x2="879.20" y2="258.00" stroke="#000" stroke-width="1.3" />
<line x1="885.60" y1="78.00" x2="885.60" y2="258.00" stroke="#000" stroke-width="3.0" />
<rect x="850.20" y="76.50" width="58.40" height="16.85" rx="3" fill="none" stroke="#000" stroke-width="1.1" />
<line x1="851.00" y1="78.70" x2="907.80" y2="78.70" stroke="#555" stroke-width="0.5" />
<line x1="851.00" y1="91.10" x2="907.80" y2="91.10" stroke="#555" stroke-width="0.5" />
<line x1="866.00" y1="76.00" x2="866.00" y2="94.10" stroke="#000" stroke-width="1.7" />
<line x1="893.00" y1="76.00" x2="893.00" y2="94.10" stroke="#000" stroke-width="1.7" />
<line x1="862.00" y1="83.90" x2="897.00" y2="83.90" stroke="#000" stroke-width="1.3" />
<line x1="862.40" y1="93.70" x2="896.00" y2="93.70" stroke="#000" stroke-width="2.0" />
<rect x="867.00" y="78.50" width="25.00" height="12.80" rx="0" fill="none" stroke="#000" stroke-width="1.3" />
<path d="M873.3,93.35 L876.3,80.5 H882.3 L885.3,93.35 Z" fill="#000" stroke="#000" stroke-width="0" />
<rect x="850.20" y="126.30" width="58.40" height="16.85" rx="3" fill="none" stroke="#000" stroke-width="1.1" />
<line x1="851.00" y1="128.50" x2="907.80" y2="128.50" stroke="#555" stroke-width="0.5" />
<line x1="851.00" y1="140.90" x2="907.80" y2="140.90" stroke="#555" stroke-width="0.5" />
<line x1="866.00" y1="125.80" x2="866.00" y2="143.90" stroke="#000" stroke-width="1.7" />
<line x1="893.00" y1="125.80" x2="893.00" y2="143.90" stroke="#000" stroke-width="1.7" />
<line x1="862.00" y1="133.70" x2="897.00" y2="133.70" stroke="#000" stroke-width="1.3" />
<line x1="862.40" y1="126.00" x2="896.00" y2="126.00" stroke="#000" stroke-width="2.0" />
<rect x="867.00" y="128.30" width="25.00" height="12.80" rx="0" fill="none" stroke="#000" stroke-width="1.3" />
<path d="M873.3,126.3 L876.3,139.1 H882.3 L885.3,126.3 Z" fill="#000" stroke="#000" stroke-width="0" />
<path d="M871.3,93.35 H888.3 L894.3,100.85 V118.85 L888.3,126.35 H871.3 L868.3,121.85 V97.85 Z" fill="#000" stroke="#000" stroke-width="1.2" />
<rect x="876.70" y="97.85" width="1.40" height="4.20" rx="0" fill="#fff" stroke="#000" stroke-width="0" />
<rect x="876.70" y="103.85" width="1.40" height="4.20" rx="0" fill="#fff" stroke="#000" stroke-width="0" />
<rect x="876.70" y="109.85" width="1.40" height="4.20" rx="0" fill="#fff" stroke="#000" stroke-width="0" />
<rect x="876.70" y="115.85" width="1.40" height="4.20" rx="0" fill="#fff" stroke="#000" stroke-width="0" />
<rect x="881.10" y="97.85" width="1.40" height="4.20" rx="0" fill="#fff" stroke="#000" stroke-width="0" />
<rect x="881.10" y="103.85" width="1.40" height="4.20" rx="0" fill="#fff" stroke="#000" stroke-width="0" />
<rect x="881.10" y="109.85" width="1.40" height="4.20" rx="0" fill="#fff" stroke="#000" stroke-width="0" />
<rect x="881.10" y="115.85" width="1.40" height="4.20" rx="0" fill="#fff" stroke="#000" stroke-width="0" />
<rect x="872.80" y="100.85" width="0.90" height="3.60" rx="0" fill="#bbb" stroke="#000" stroke-width="0" />
<rect x="872.80" y="106.85" width="0.90" height="3.60" rx="0" fill="#bbb" stroke="#000" stroke-width="0" />
<rect x="872.80" y="112.85" width="0.90" height="3.60" rx="0" fill="#bbb" stroke="#000" stroke-width="0" />
<rect x="884.80" y="100.85" width="0.90" height="3.60" rx="0" fill="#bbb" stroke="#000" stroke-width="0" />
<rect x="884.80" y="106.85" width="0.90" height="3.60" rx="0" fill="#bbb" stroke="#000" stroke-width="0" />
<rect x="884.80" y="112.85" width="0.90" height="3.60" rx="0" fill="#bbb" stroke="#000" stroke-width="0" />
<rect x="855.80" y="99.35" width="12.40" height="21.00" rx="0" fill="#fff" stroke="#000" stroke-width="1.3" />
<line x1="855.80" y1="103.85" x2="868.00" y2="103.85" stroke="#000" stroke-width="1.2" />
<line x1="855.80" y1="115.85" x2="868.00" y2="115.85" stroke="#000" stroke-width="1.2" />
<line x1="855.80" y1="109.85" x2="868.00" y2="109.85" stroke="#000" stroke-width="0.7" />
<rect x="860.50" y="99.35" width="3.00" height="21.00" rx="0" fill="#000" stroke="#000" stroke-width="0" />
<rect x="863.50" y="104.85" width="4.50" height="3.80" rx="0" fill="#000" stroke="#000" stroke-width="0" />
<rect x="863.50" y="111.35" width="4.50" height="3.80" rx="0" fill="#000" stroke="#000" stroke-width="0" />
<rect x="852.30" y="96.25" width="3.40" height="27.20" rx="0" fill="#777" stroke="#000" stroke-width="0.9" />
<rect x="850.20" y="105.85" width="2.20" height="8.00" rx="0" fill="#fff" stroke="#000" stroke-width="0.7" />
<rect x="833.80" y="101.25" width="16.40" height="17.20" rx="0" fill="#000" stroke="#000" stroke-width="0" />
<rect x="830.30" y="101.25" width="3.50" height="17.20" rx="0" fill="#fff" stroke="#000" stroke-width="0.7" />
<rect x="826.20" y="103.85" width="4.10" height="12.00" rx="0" fill="#fff" stroke="#000" stroke-width="0.7" />
<rect x="839.20" y="95.65" width="9.40" height="6.20" rx="0" fill="#fff" stroke="#000" stroke-width="0.8" />
<rect x="850.20" y="192.60" width="58.40" height="16.85" rx="3" fill="none" stroke="#000" stroke-width="1.1" />
<line x1="851.00" y1="194.80" x2="907.80" y2="194.80" stroke="#555" stroke-width="0.5" />
<line x1="851.00" y1="207.20" x2="907.80" y2="207.20" stroke="#555" stroke-width="0.5" />
<line x1="866.00" y1="192.10" x2="866.00" y2="210.20" stroke="#000" stroke-width="1.7" />
<line x1="893.00" y1="192.10" x2="893.00" y2="210.20" stroke="#000" stroke-width="1.7" />
<line x1="862.00" y1="200.00" x2="897.00" y2="200.00" stroke="#000" stroke-width="1.3" />
<line x1="862.40" y1="209.80" x2="896.00" y2="209.80" stroke="#000" stroke-width="2.0" />
<rect x="867.00" y="194.60" width="25.00" height="12.80" rx="0" fill="none" stroke="#000" stroke-width="1.3" />
<path d="M873.3,209.45 L876.3,196.6 H882.3 L885.3,209.45 Z" fill="#000" stroke="#000" stroke-width="0" />
<rect x="850.20" y="242.40" width="58.40" height="16.85" rx="3" fill="none" stroke="#000" stroke-width="1.1" />
<line x1="851.00" y1="244.60" x2="907.80" y2="244.60" stroke="#555" stroke-width="0.5" />
<line x1="851.00" y1="257.00" x2="907.80" y2="257.00" stroke="#555" stroke-width="0.5" />
<line x1="866.00" y1="241.90" x2="866.00" y2="260.00" stroke="#000" stroke-width="1.7" />
<line x1="893.00" y1="241.90" x2="893.00" y2="260.00" stroke="#000" stroke-width="1.7" />
<line x1="862.00" y1="249.80" x2="897.00" y2="249.80" stroke="#000" stroke-width="1.3" />
<line x1="862.40" y1="242.10" x2="896.00" y2="242.10" stroke="#000" stroke-width="2.0" />
<rect x="867.00" y="244.40" width="25.00" height="12.80" rx="0" fill="none" stroke="#000" stroke-width="1.3" />
<path d="M873.3,242.39999999999998 L876.3,255.2 H882.3 L885.3,242.39999999999998 Z" fill="#000" stroke="#000" stroke-width="0" />
<path d="M871.3,209.45 H888.3 L894.3,216.95 V234.95 L888.3,242.45 H871.3 L868.3,237.95 V213.95 Z" fill="#000" stroke="#000" stroke-width="1.2" />
<rect x="876.70" y="213.95" width="1.40" height="4.20" rx="0" fill="#fff" stroke="#000" stroke-width="0" />
<rect x="876.70" y="219.95" width="1.40" height="4.20" rx="0" fill="#fff" stroke="#000" stroke-width="0" />
<rect x="876.70" y="225.95" width="1.40" height="4.20" rx="0" fill="#fff" stroke="#000" stroke-width="0" />
<rect x="876.70" y="231.95" width="1.40" height="4.20" rx="0" fill="#fff" stroke="#000" stroke-width="0" />
<rect x="881.10" y="213.95" width="1.40" height="4.20" rx="0" fill="#fff" stroke="#000" stroke-width="0" />
<rect x="881.10" y="219.95" width="1.40" height="4.20" rx="0" fill="#fff" stroke="#000" stroke-width="0" />
<rect x="881.10" y="225.95" width="1.40" height="4.20" rx="0" fill="#fff" stroke="#000" stroke-width="0" />
<rect x="881.10" y="231.95" width="1.40" height="4.20" rx="0" fill="#fff" stroke="#000" stroke-width="0" />
<rect x="872.80" y="216.95" width="0.90" height="3.60" rx="0" fill="#bbb" stroke="#000" stroke-width="0" />
<rect x="872.80" y="222.95" width="0.90" height="3.60" rx="0" fill="#bbb" stroke="#000" stroke-width="0" />
<rect x="872.80" y="228.95" width="0.90" height="3.60" rx="0" fill="#bbb" stroke="#000" stroke-width="0" />
<rect x="884.80" y="216.95" width="0.90" height="3.60" rx="0" fill="#bbb" stroke="#000" stroke-width="0" />
<rect x="884.80" y="222.95" width="0.90" height="3.60" rx="0" fill="#bbb" stroke="#000" stroke-width="0" />
<rect x="884.80" y="228.95" width="0.90" height="3.60" rx="0" fill="#bbb" stroke="#000" stroke-width="0" />
<rect x="855.80" y="215.45" width="12.40" height="21.00" rx="0" fill="#fff" stroke="#000" stroke-width="1.3" />
<line x1="855.80" y1="219.95" x2="868.00" y2="219.95" stroke="#000" stroke-width="1.2" />
<line x1="855.80" y1="231.95" x2="868.00" y2="231.95" stroke="#000" stroke-width="1.2" />
<line x1="855.80" y1="225.95" x2="868.00" y2="225.95" stroke="#000" stroke-width="0.7" />
<rect x="860.50" y="215.45" width="3.00" height="21.00" rx="0" fill="#000" stroke="#000" stroke-width="0" />
<rect x="863.50" y="220.95" width="4.50" height="3.80" rx="0" fill="#000" stroke="#000" stroke-width="0" />
<rect x="863.50" y="227.45" width="4.50" height="3.80" rx="0" fill="#000" stroke="#000" stroke-width="0" />
<rect x="852.30" y="212.35" width="3.40" height="27.20" rx="0" fill="#777" stroke="#000" stroke-width="0.9" />
<rect x="850.20" y="221.95" width="2.20" height="8.00" rx="0" fill="#fff" stroke="#000" stroke-width="0.7" />
<rect x="833.80" y="217.35" width="16.40" height="17.20" rx="0" fill="#000" stroke="#000" stroke-width="0" />
<rect x="830.30" y="217.35" width="3.50" height="17.20" rx="0" fill="#fff" stroke="#000" stroke-width="0.7" />
<rect x="826.20" y="219.95" width="4.10" height="12.00" rx="0" fill="#fff" stroke="#000" stroke-width="0.7" />
<rect x="839.20" y="233.95" width="9.40" height="6.20" rx="0" fill="#fff" stroke="#000" stroke-width="0.8" />
<line x1="869.00" y1="157.00" x2="869.00" y2="179.00" stroke="#000" stroke-width="0.9" />
<line x1="888.80" y1="157.00" x2="888.80" y2="179.00" stroke="#333" stroke-width="3.2" />
<line x1="854.00" y1="167.40" x2="904.00" y2="167.40" stroke="#000" stroke-width="1.3" />
<line x1="867.00" y1="167.40" x2="892.00" y2="167.40" stroke="#000" stroke-width="3.0" />
<circle cx="868.80" cy="167.60" r="2.6" fill="#000" stroke="#000" stroke-width="0"/>
<circle cx="890.00" cy="167.60" r="2.6" fill="#000" stroke="#000" stroke-width="0"/>
<circle cx="879.20" cy="167.30" r="4.5" fill="none" stroke="#000" stroke-width="0.8"/>
</g>
<g transform="translate(208.6 110) rotate(4.9)">
<rect x="-29.00" y="-40.50" width="16.00" height="58.00" rx="2.6" fill="none" stroke="#000" stroke-width="1.0" />
<rect x="-27.40" y="-38.90" width="12.80" height="54.80" rx="1.8" fill="none" stroke="#000" stroke-width="0.7" />
<line x1="-28.20" y1="-35.50" x2="-28.20" y2="12.50" stroke="#000" stroke-width="0.6" />
<line x1="-13.80" y1="-35.50" x2="-13.80" y2="12.50" stroke="#000" stroke-width="0.6" />
<rect x="-30.00" y="-27.00" width="18.00" height="30.00" rx="0.5" fill="none" stroke="#000" stroke-width="1.7" />
<line x1="-20.00" y1="-30.00" x2="-20.00" y2="-27.00" stroke="#000" stroke-width="0.9" />
<line x1="-22.00" y1="3.00" x2="-22.00" y2="6.00" stroke="#000" stroke-width="0.9" />
<line x1="-30.00" y1="-23.90" x2="-12.00" y2="-23.90" stroke="#000" stroke-width="1.1" />
<line x1="-30.00" y1="-0.10" x2="-12.00" y2="-0.10" stroke="#000" stroke-width="1.1" />
<line x1="-16.00" y1="-27.00" x2="-16.00" y2="3.00" stroke="#000" stroke-width="0.9" />
<line x1="-25.00" y1="-33.50" x2="-25.00" y2="8.50" stroke="#000" stroke-width="0.7" />
<path d="M-18,-20.5 L-24,-14.5 L-24,-7.5 L-18,-1.5 Z" fill="#000" stroke="#000" stroke-width="0.6" />
<line x1="-21.00" y1="-23.50" x2="-21.00" y2="1.50" stroke="#000" stroke-width="1.6" />
<rect x="13.00" y="-40.50" width="16.00" height="58.00" rx="2.6" fill="none" stroke="#000" stroke-width="1.0" />
<rect x="14.60" y="-38.90" width="12.80" height="54.80" rx="1.8" fill="none" stroke="#000" stroke-width="0.7" />
<line x1="13.80" y1="-35.50" x2="13.80" y2="12.50" stroke="#000" stroke-width="0.6" />
<line x1="28.20" y1="-35.50" x2="28.20" y2="12.50" stroke="#000" stroke-width="0.6" />
<rect x="12.00" y="-27.00" width="18.00" height="30.00" rx="0.5" fill="none" stroke="#000" stroke-width="1.7" />
<line x1="22.00" y1="-30.00" x2="22.00" y2="-27.00" stroke="#000" stroke-width="0.9" />
<line x1="20.00" y1="3.00" x2="20.00" y2="6.00" stroke="#000" stroke-width="0.9" />
<line x1="12.00" y1="-23.90" x2="30.00" y2="-23.90" stroke="#000" stroke-width="1.1" />
<line x1="12.00" y1="-0.10" x2="30.00" y2="-0.10" stroke="#000" stroke-width="1.1" />
<line x1="16.00" y1="-27.00" x2="16.00" y2="3.00" stroke="#000" stroke-width="0.9" />
<line x1="25.00" y1="-33.50" x2="25.00" y2="8.50" stroke="#000" stroke-width="0.7" />
<path d="M18,-20.5 L24,-14.5 L24,-7.5 L18,-1.5 Z" fill="#000" stroke="#000" stroke-width="0.6" />
<line x1="21.00" y1="-23.50" x2="21.00" y2="1.50" stroke="#000" stroke-width="1.6" />
<line x1="-21.00" y1="-18.50" x2="21.00" y2="-18.50" stroke="#000" stroke-width="1.4" />
<line x1="-21.00" y1="-15.50" x2="21.00" y2="-15.50" stroke="#000" stroke-width="1.8" />
<line x1="-21.00" y1="-12.50" x2="21.00" y2="-12.50" stroke="#000" stroke-width="1.2" />
<line x1="-21.00" y1="-9.50" x2="21.00" y2="-9.50" stroke="#000" stroke-width="1.8" />
<line x1="-21.00" y1="-6.50" x2="21.00" y2="-6.50" stroke="#000" stroke-width="1.4" />
<line x1="-21.00" y1="-3.50" x2="21.00" y2="-3.50" stroke="#000" stroke-width="1.0" />
<rect x="-13.00" y="-19.50" width="26.00" height="17.00" rx="0" fill="none" stroke="#000" stroke-width="1.4" />
<line x1="-11.00" y1="-19.50" x2="-11.00" y2="-1.50" stroke="#000" stroke-width="1.2" />
<line x1="-8.00" y1="-19.50" x2="-8.00" y2="-1.50" stroke="#000" stroke-width="1.2" />
<line x1="-5.00" y1="-19.50" x2="-5.00" y2="-1.50" stroke="#000" stroke-width="1.2" />
<line x1="5.00" y1="-19.50" x2="5.00" y2="-1.50" stroke="#000" stroke-width="1.2" />
<line x1="8.00" y1="-19.50" x2="8.00" y2="-1.50" stroke="#000" stroke-width="1.2" />
<line x1="11.00" y1="-19.50" x2="11.00" y2="-1.50" stroke="#000" stroke-width="1.2" />
<circle cx="0.00" cy="0.00" r="12.0" fill="#000" stroke="#000" stroke-width="0"/>
<circle cx="0.00" cy="0.00" r="13.0" fill="none" stroke="#000" stroke-width="0.7"/>
<circle cx="0" cy="0" r="12.4" fill="none" stroke="#000" stroke-width="1.2" stroke-dasharray="1.6 1.2"/>
<path d="M-1.3,-3.3 A3.6,3.6 0 0 0 -1.3,3.3" fill="none" stroke="#fff" stroke-width="1.7" />
<path d="M1.3,-3.3 A3.6,3.6 0 0 1 1.3,3.3" fill="none" stroke="#fff" stroke-width="1.7" />
</g>
<g transform="translate(208.6 226) rotate(-5.0)">
<rect x="-29.00" y="-40.50" width="16.00" height="58.00" rx="2.6" fill="none" stroke="#000" stroke-width="1.0" />
<rect x="-27.40" y="-38.90" width="12.80" height="54.80" rx="1.8" fill="none" stroke="#000" stroke-width="0.7" />
<line x1="-28.20" y1="-35.50" x2="-28.20" y2="12.50" stroke="#000" stroke-width="0.6" />
<line x1="-13.80" y1="-35.50" x2="-13.80" y2="12.50" stroke="#000" stroke-width="0.6" />
<rect x="-30.00" y="-27.00" width="18.00" height="30.00" rx="0.5" fill="none" stroke="#000" stroke-width="1.7" />
<line x1="-20.00" y1="-30.00" x2="-20.00" y2="-27.00" stroke="#000" stroke-width="0.9" />
<line x1="-22.00" y1="3.00" x2="-22.00" y2="6.00" stroke="#000" stroke-width="0.9" />
<line x1="-30.00" y1="-23.90" x2="-12.00" y2="-23.90" stroke="#000" stroke-width="1.1" />
<line x1="-30.00" y1="-0.10" x2="-12.00" y2="-0.10" stroke="#000" stroke-width="1.1" />
<line x1="-16.00" y1="-27.00" x2="-16.00" y2="3.00" stroke="#000" stroke-width="0.9" />
<line x1="-25.00" y1="-33.50" x2="-25.00" y2="8.50" stroke="#000" stroke-width="0.7" />
<path d="M-18,-20.5 L-24,-14.5 L-24,-7.5 L-18,-1.5 Z" fill="#000" stroke="#000" stroke-width="0.6" />
<line x1="-21.00" y1="-23.50" x2="-21.00" y2="1.50" stroke="#000" stroke-width="1.6" />
<rect x="13.00" y="-40.50" width="16.00" height="58.00" rx="2.6" fill="none" stroke="#000" stroke-width="1.0" />
<rect x="14.60" y="-38.90" width="12.80" height="54.80" rx="1.8" fill="none" stroke="#000" stroke-width="0.7" />
<line x1="13.80" y1="-35.50" x2="13.80" y2="12.50" stroke="#000" stroke-width="0.6" />
<line x1="28.20" y1="-35.50" x2="28.20" y2="12.50" stroke="#000" stroke-width="0.6" />
<rect x="12.00" y="-27.00" width="18.00" height="30.00" rx="0.5" fill="none" stroke="#000" stroke-width="1.7" />
<line x1="22.00" y1="-30.00" x2="22.00" y2="-27.00" stroke="#000" stroke-width="0.9" />
<line x1="20.00" y1="3.00" x2="20.00" y2="6.00" stroke="#000" stroke-width="0.9" />
<line x1="12.00" y1="-23.90" x2="30.00" y2="-23.90" stroke="#000" stroke-width="1.1" />
<line x1="12.00" y1="-0.10" x2="30.00" y2="-0.10" stroke="#000" stroke-width="1.1" />
<line x1="16.00" y1="-27.00" x2="16.00" y2="3.00" stroke="#000" stroke-width="0.9" />
<line x1="25.00" y1="-33.50" x2="25.00" y2="8.50" stroke="#000" stroke-width="0.7" />
<path d="M18,-20.5 L24,-14.5 L24,-7.5 L18,-1.5 Z" fill="#000" stroke="#000" stroke-width="0.6" />
<line x1="21.00" y1="-23.50" x2="21.00" y2="1.50" stroke="#000" stroke-width="1.6" />
<line x1="-21.00" y1="-18.50" x2="21.00" y2="-18.50" stroke="#000" stroke-width="1.4" />
<line x1="-21.00" y1="-15.50" x2="21.00" y2="-15.50" stroke="#000" stroke-width="1.8" />
<line x1="-21.00" y1="-12.50" x2="21.00" y2="-12.50" stroke="#000" stroke-width="1.2" />
<line x1="-21.00" y1="-9.50" x2="21.00" y2="-9.50" stroke="#000" stroke-width="1.8" />
<line x1="-21.00" y1="-6.50" x2="21.00" y2="-6.50" stroke="#000" stroke-width="1.4" />
<line x1="-21.00" y1="-3.50" x2="21.00" y2="-3.50" stroke="#000" stroke-width="1.0" />
<rect x="-13.00" y="-19.50" width="26.00" height="17.00" rx="0" fill="none" stroke="#000" stroke-width="1.4" />
<line x1="-11.00" y1="-19.50" x2="-11.00" y2="-1.50" stroke="#000" stroke-width="1.2" />
<line x1="-8.00" y1="-19.50" x2="-8.00" y2="-1.50" stroke="#000" stroke-width="1.2" />
<line x1="-5.00" y1="-19.50" x2="-5.00" y2="-1.50" stroke="#000" stroke-width="1.2" />
<line x1="5.00" y1="-19.50" x2="5.00" y2="-1.50" stroke="#000" stroke-width="1.2" />
<line x1="8.00" y1="-19.50" x2="8.00" y2="-1.50" stroke="#000" stroke-width="1.2" />
<line x1="11.00" y1="-19.50" x2="11.00" y2="-1.50" stroke="#000" stroke-width="1.2" />
<circle cx="0.00" cy="0.00" r="12.0" fill="#000" stroke="#000" stroke-width="0"/>
<circle cx="0.00" cy="0.00" r="13.0" fill="none" stroke="#000" stroke-width="0.7"/>
<circle cx="0" cy="0" r="12.4" fill="none" stroke="#000" stroke-width="1.2" stroke-dasharray="1.6 1.2"/>
<path d="M-1.3,-3.3 A3.6,3.6 0 0 0 -1.3,3.3" fill="none" stroke="#fff" stroke-width="1.7" />
<path d="M1.3,-3.3 A3.6,3.6 0 0 1 1.3,3.3" fill="none" stroke="#fff" stroke-width="1.7" />
</g>
<g transform="translate(208.6 517) rotate(18.1)">
<rect x="-29.00" y="-40.50" width="16.00" height="58.00" rx="2.6" fill="none" stroke="#000" stroke-width="1.0" />
<rect x="-27.40" y="-38.90" width="12.80" height="54.80" rx="1.8" fill="none" stroke="#000" stroke-width="0.7" />
<line x1="-28.20" y1="-35.50" x2="-28.20" y2="12.50" stroke="#000" stroke-width="0.6" />
<line x1="-13.80" y1="-35.50" x2="-13.80" y2="12.50" stroke="#000" stroke-width="0.6" />
<rect x="-30.00" y="-27.00" width="18.00" height="30.00" rx="0.5" fill="none" stroke="#000" stroke-width="1.7" />
<line x1="-20.00" y1="-30.00" x2="-20.00" y2="-27.00" stroke="#000" stroke-width="0.9" />
<line x1="-22.00" y1="3.00" x2="-22.00" y2="6.00" stroke="#000" stroke-width="0.9" />
<line x1="-30.00" y1="-23.90" x2="-12.00" y2="-23.90" stroke="#000" stroke-width="1.1" />
<line x1="-30.00" y1="-0.10" x2="-12.00" y2="-0.10" stroke="#000" stroke-width="1.1" />
<line x1="-16.00" y1="-27.00" x2="-16.00" y2="3.00" stroke="#000" stroke-width="0.9" />
<line x1="-25.00" y1="-33.50" x2="-25.00" y2="8.50" stroke="#000" stroke-width="0.7" />
<path d="M-18,-20.5 L-24,-14.5 L-24,-7.5 L-18,-1.5 Z" fill="#000" stroke="#000" stroke-width="0.6" />
<line x1="-21.00" y1="-23.50" x2="-21.00" y2="1.50" stroke="#000" stroke-width="1.6" />
<rect x="13.00" y="-40.50" width="16.00" height="58.00" rx="2.6" fill="none" stroke="#000" stroke-width="1.0" />
<rect x="14.60" y="-38.90" width="12.80" height="54.80" rx="1.8" fill="none" stroke="#000" stroke-width="0.7" />
<line x1="13.80" y1="-35.50" x2="13.80" y2="12.50" stroke="#000" stroke-width="0.6" />
<line x1="28.20" y1="-35.50" x2="28.20" y2="12.50" stroke="#000" stroke-width="0.6" />
<rect x="12.00" y="-27.00" width="18.00" height="30.00" rx="0.5" fill="none" stroke="#000" stroke-width="1.7" />
<line x1="22.00" y1="-30.00" x2="22.00" y2="-27.00" stroke="#000" stroke-width="0.9" />
<line x1="20.00" y1="3.00" x2="20.00" y2="6.00" stroke="#000" stroke-width="0.9" />
<line x1="12.00" y1="-23.90" x2="30.00" y2="-23.90" stroke="#000" stroke-width="1.1" />
<line x1="12.00" y1="-0.10" x2="30.00" y2="-0.10" stroke="#000" stroke-width="1.1" />
<line x1="16.00" y1="-27.00" x2="16.00" y2="3.00" stroke="#000" stroke-width="0.9" />
<line x1="25.00" y1="-33.50" x2="25.00" y2="8.50" stroke="#000" stroke-width="0.7" />
<path d="M18,-20.5 L24,-14.5 L24,-7.5 L18,-1.5 Z" fill="#000" stroke="#000" stroke-width="0.6" />
<line x1="21.00" y1="-23.50" x2="21.00" y2="1.50" stroke="#000" stroke-width="1.6" />
<line x1="-21.00" y1="-18.50" x2="21.00" y2="-18.50" stroke="#000" stroke-width="1.4" />
<line x1="-21.00" y1="-15.50" x2="21.00" y2="-15.50" stroke="#000" stroke-width="1.8" />
<line x1="-21.00" y1="-12.50" x2="21.00" y2="-12.50" stroke="#000" stroke-width="1.2" />
<line x1="-21.00" y1="-9.50" x2="21.00" y2="-9.50" stroke="#000" stroke-width="1.8" />
<line x1="-21.00" y1="-6.50" x2="21.00" y2="-6.50" stroke="#000" stroke-width="1.4" />
<line x1="-21.00" y1="-3.50" x2="21.00" y2="-3.50" stroke="#000" stroke-width="1.0" />
<rect x="-13.00" y="-19.50" width="26.00" height="17.00" rx="0" fill="none" stroke="#000" stroke-width="1.4" />
<line x1="-11.00" y1="-19.50" x2="-11.00" y2="-1.50" stroke="#000" stroke-width="1.2" />
<line x1="-8.00" y1="-19.50" x2="-8.00" y2="-1.50" stroke="#000" stroke-width="1.2" />
<line x1="-5.00" y1="-19.50" x2="-5.00" y2="-1.50" stroke="#000" stroke-width="1.2" />
<line x1="5.00" y1="-19.50" x2="5.00" y2="-1.50" stroke="#000" stroke-width="1.2" />
<line x1="8.00" y1="-19.50" x2="8.00" y2="-1.50" stroke="#000" stroke-width="1.2" />
<line x1="11.00" y1="-19.50" x2="11.00" y2="-1.50" stroke="#000" stroke-width="1.2" />
<circle cx="0.00" cy="0.00" r="12.0" fill="#000" stroke="#000" stroke-width="0"/>
<circle cx="0.00" cy="0.00" r="13.0" fill="none" stroke="#000" stroke-width="0.7"/>
<circle cx="0" cy="0" r="12.4" fill="none" stroke="#000" stroke-width="1.2" stroke-dasharray="1.6 1.2"/>
<path d="M-1.3,-3.3 A3.6,3.6 0 0 0 -1.3,3.3" fill="none" stroke="#fff" stroke-width="1.7" />
<path d="M1.3,-3.3 A3.6,3.6 0 0 1 1.3,3.3" fill="none" stroke="#fff" stroke-width="1.7" />
</g>
<g transform="translate(208.6 633) rotate(8.7)">
<rect x="-29.00" y="-40.50" width="16.00" height="58.00" rx="2.6" fill="none" stroke="#000" stroke-width="1.0" />
<rect x="-27.40" y="-38.90" width="12.80" height="54.80" rx="1.8" fill="none" stroke="#000" stroke-width="0.7" />
<line x1="-28.20" y1="-35.50" x2="-28.20" y2="12.50" stroke="#000" stroke-width="0.6" />
<line x1="-13.80" y1="-35.50" x2="-13.80" y2="12.50" stroke="#000" stroke-width="0.6" />
<rect x="-30.00" y="-27.00" width="18.00" height="30.00" rx="0.5" fill="none" stroke="#000" stroke-width="1.7" />
<line x1="-20.00" y1="-30.00" x2="-20.00" y2="-27.00" stroke="#000" stroke-width="0.9" />
<line x1="-22.00" y1="3.00" x2="-22.00" y2="6.00" stroke="#000" stroke-width="0.9" />
<line x1="-30.00" y1="-23.90" x2="-12.00" y2="-23.90" stroke="#000" stroke-width="1.1" />
<line x1="-30.00" y1="-0.10" x2="-12.00" y2="-0.10" stroke="#000" stroke-width="1.1" />
<line x1="-16.00" y1="-27.00" x2="-16.00" y2="3.00" stroke="#000" stroke-width="0.9" />
<line x1="-25.00" y1="-33.50" x2="-25.00" y2="8.50" stroke="#000" stroke-width="0.7" />
<path d="M-18,-20.5 L-24,-14.5 L-24,-7.5 L-18,-1.5 Z" fill="#000" stroke="#000" stroke-width="0.6" />
<line x1="-21.00" y1="-23.50" x2="-21.00" y2="1.50" stroke="#000" stroke-width="1.6" />
<rect x="13.00" y="-40.50" width="16.00" height="58.00" rx="2.6" fill="none" stroke="#000" stroke-width="1.0" />
<rect x="14.60" y="-38.90" width="12.80" height="54.80" rx="1.8" fill="none" stroke="#000" stroke-width="0.7" />
<line x1="13.80" y1="-35.50" x2="13.80" y2="12.50" stroke="#000" stroke-width="0.6" />
<line x1="28.20" y1="-35.50" x2="28.20" y2="12.50" stroke="#000" stroke-width="0.6" />
<rect x="12.00" y="-27.00" width="18.00" height="30.00" rx="0.5" fill="none" stroke="#000" stroke-width="1.7" />
<line x1="22.00" y1="-30.00" x2="22.00" y2="-27.00" stroke="#000" stroke-width="0.9" />
<line x1="20.00" y1="3.00" x2="20.00" y2="6.00" stroke="#000" stroke-width="0.9" />
<line x1="12.00" y1="-23.90" x2="30.00" y2="-23.90" stroke="#000" stroke-width="1.1" />
<line x1="12.00" y1="-0.10" x2="30.00" y2="-0.10" stroke="#000" stroke-width="1.1" />
<line x1="16.00" y1="-27.00" x2="16.00" y2="3.00" stroke="#000" stroke-width="0.9" />
<line x1="25.00" y1="-33.50" x2="25.00" y2="8.50" stroke="#000" stroke-width="0.7" />
<path d="M18,-20.5 L24,-14.5 L24,-7.5 L18,-1.5 Z" fill="#000" stroke="#000" stroke-width="0.6" />
<line x1="21.00" y1="-23.50" x2="21.00" y2="1.50" stroke="#000" stroke-width="1.6" />
<line x1="-21.00" y1="-18.50" x2="21.00" y2="-18.50" stroke="#000" stroke-width="1.4" />
<line x1="-21.00" y1="-15.50" x2="21.00" y2="-15.50" stroke="#000" stroke-width="1.8" />
<line x1="-21.00" y1="-12.50" x2="21.00" y2="-12.50" stroke="#000" stroke-width="1.2" />
<line x1="-21.00" y1="-9.50" x2="21.00" y2="-9.50" stroke="#000" stroke-width="1.8" />
<line x1="-21.00" y1="-6.50" x2="21.00" y2="-6.50" stroke="#000" stroke-width="1.4" />
<line x1="-21.00" y1="-3.50" x2="21.00" y2="-3.50" stroke="#000" stroke-width="1.0" />
<rect x="-13.00" y="-19.50" width="26.00" height="17.00" rx="0" fill="none" stroke="#000" stroke-width="1.4" />
<line x1="-11.00" y1="-19.50" x2="-11.00" y2="-1.50" stroke="#000" stroke-width="1.2" />
<line x1="-8.00" y1="-19.50" x2="-8.00" y2="-1.50" stroke="#000" stroke-width="1.2" />
<line x1="-5.00" y1="-19.50" x2="-5.00" y2="-1.50" stroke="#000" stroke-width="1.2" />
<line x1="5.00" y1="-19.50" x2="5.00" y2="-1.50" stroke="#000" stroke-width="1.2" />
<line x1="8.00" y1="-19.50" x2="8.00" y2="-1.50" stroke="#000" stroke-width="1.2" />
<line x1="11.00" y1="-19.50" x2="11.00" y2="-1.50" stroke="#000" stroke-width="1.2" />
<circle cx="0.00" cy="0.00" r="12.0" fill="#000" stroke="#000" stroke-width="0"/>
<circle cx="0.00" cy="0.00" r="13.0" fill="none" stroke="#000" stroke-width="0.7"/>
<circle cx="0" cy="0" r="12.4" fill="none" stroke="#000" stroke-width="1.2" stroke-dasharray="1.6 1.2"/>
<path d="M-1.3,-3.3 A3.6,3.6 0 0 0 -1.3,3.3" fill="none" stroke="#fff" stroke-width="1.7" />
<path d="M1.3,-3.3 A3.6,3.6 0 0 1 1.3,3.3" fill="none" stroke="#fff" stroke-width="1.7" />
</g>
<g transform="translate(0 0)">
<rect x="654.60" y="79.80" width="74.10" height="19.50" rx="0" fill="none" stroke="#000" stroke-width="1.0" />
<line x1="729.00" y1="77.00" x2="729.00" y2="87.00" stroke="#000" stroke-width="1.0" />
<path d="M673,82.3 L683.5,84.2 L684.1,80.8 L685.4,83 L690.6,86.3 L698,92.5 L689.6,89.3 L686.2,88.8 L685.5,93 L680.4,88.4 L678,86.5 Z" fill="#000" stroke="#000" stroke-width="0.3" />
<line x1="557.00" y1="101.60" x2="731.70" y2="101.60" stroke="#000" stroke-width="2.4" />
<line x1="557.00" y1="143.00" x2="731.70" y2="143.00" stroke="#000" stroke-width="3.0" />
<line x1="557.00" y1="108.30" x2="731.70" y2="108.30" stroke="#000" stroke-width="1.1" />
<line x1="557.00" y1="136.80" x2="731.70" y2="136.80" stroke="#000" stroke-width="1.1" />
<rect x="573.65" y="107.65" width="40.20" height="29.40" rx="0.6" fill="#fff" stroke="#000" stroke-width="2.7" />
<rect x="573.65" y="107.65" width="40.20" height="29.40" rx="0.6" fill="none" stroke="#fff" stroke-width="0.45" stroke-dasharray="5.2 1.2"/>
<circle cx="572.90" cy="106.90" r="1.0" fill="#000" stroke="#000" stroke-width="0"/>
<circle cx="614.60" cy="106.90" r="1.0" fill="#000" stroke="#000" stroke-width="0"/>
<circle cx="572.90" cy="137.80" r="1.0" fill="#000" stroke="#000" stroke-width="0"/>
<circle cx="614.60" cy="137.80" r="1.0" fill="#000" stroke="#000" stroke-width="0"/>
<rect x="634.75" y="107.65" width="40.40" height="29.40" rx="0.6" fill="#fff" stroke="#000" stroke-width="2.7" />
<rect x="634.75" y="107.65" width="40.40" height="29.40" rx="0.6" fill="none" stroke="#fff" stroke-width="0.45" stroke-dasharray="5.2 1.2"/>
<circle cx="634.00" cy="106.90" r="1.0" fill="#000" stroke="#000" stroke-width="0"/>
<circle cx="675.90" cy="106.90" r="1.0" fill="#000" stroke="#000" stroke-width="0"/>
<circle cx="634.00" cy="137.80" r="1.0" fill="#000" stroke="#000" stroke-width="0"/>
<circle cx="675.90" cy="137.80" r="1.0" fill="#000" stroke="#000" stroke-width="0"/>
<rect x="682.05" y="107.65" width="40.40" height="29.40" rx="0.6" fill="#fff" stroke="#000" stroke-width="2.7" />
<rect x="682.05" y="107.65" width="40.40" height="29.40" rx="0.6" fill="none" stroke="#fff" stroke-width="0.45" stroke-dasharray="5.2 1.2"/>
<circle cx="681.30" cy="106.90" r="1.0" fill="#000" stroke="#000" stroke-width="0"/>
<circle cx="723.20" cy="106.90" r="1.0" fill="#000" stroke="#000" stroke-width="0"/>
<circle cx="681.30" cy="137.80" r="1.0" fill="#000" stroke="#000" stroke-width="0"/>
<circle cx="723.20" cy="137.80" r="1.0" fill="#000" stroke="#000" stroke-width="0"/>
<circle cx="614.90" cy="114.25" r="1.5" fill="#000" stroke="#000" stroke-width="0"/>
<circle cx="614.90" cy="130.10" r="1.5" fill="#000" stroke="#000" stroke-width="0"/>
<circle cx="633.60" cy="114.25" r="1.5" fill="#000" stroke="#000" stroke-width="0"/>
<circle cx="633.60" cy="130.10" r="1.5" fill="#000" stroke="#000" stroke-width="0"/>
<circle cx="724.20" cy="114.25" r="1.5" fill="#000" stroke="#000" stroke-width="0"/>
<circle cx="724.20" cy="130.10" r="1.5" fill="#000" stroke="#000" stroke-width="0"/>
<rect x="600.80" y="78.40" width="11.20" height="2.20" rx="0" fill="#fff" stroke="#000" stroke-width="0.7" />
<line x1="602.60" y1="80.60" x2="602.60" y2="87.00" stroke="#000" stroke-width="0.8" />
<line x1="610.40" y1="80.60" x2="610.40" y2="87.00" stroke="#000" stroke-width="0.8" />
<path d="M603.6,87 V89.4 Q603.6,92.4 600.6,92.4 H562.5 Q559.5,92.4 559.5,95.4 V118.6 Q559.5,121.6 562.5,121.6 H572.2" fill="none" stroke="#000" stroke-width="0.8" />
<path d="M606.5,87 V92.2 Q606.5,95.2 603.5,95.2 H565.3 Q562.3,95.2 562.3,98.2 V112.6 Q562.3,115.6 565.3,115.6 H572.2" fill="none" stroke="#000" stroke-width="0.8" />
<path d="M609.4,87 V95.0 Q609.4,98 606.4,98 H568.2 Q565.2,98 565.2,101.0 V107.2 Q565.2,110.2 568.2,110.2 H572.2" fill="none" stroke="#000" stroke-width="0.8" />
<line x1="616.00" y1="114.25" x2="632.40" y2="114.25" stroke="#000" stroke-width="0.8" />
<path d="M616,130.1 Q619.75,130.4 619.75,134.4 V150 Q619.75,153.5 623.2,153.5 H734" fill="none" stroke="#000" stroke-width="0.8" />
<path d="M621.4,114.25 V147.4 Q621.4,150.6 624.6,150.6 H734" fill="none" stroke="#000" stroke-width="0.8" />
<path d="M632.4,130.1 Q629.3,130.4 629.3,134.4 V144.5 Q629.3,147.6 632.4,147.6 H736" fill="none" stroke="#000" stroke-width="0.8" />
<path d="M725.6,114.25 H737 Q740.4,114.5 740.4,118 V206 Q740.4,210 737,210 H732" fill="none" stroke="#000" stroke-width="0.8" />
<path d="M725.6,130.1 H731.5 Q734.6,130.1 734.6,133.6 V146 Q734.6,149 737.5,149" fill="none" stroke="#000" stroke-width="0.8" />
<path d="M734,150.6 Q737.6,150.6 737.6,154 V196" fill="none" stroke="#000" stroke-width="0.8" />
<path d="M734,153.5 Q735.4,153.5 735.4,156 V196" fill="none" stroke="#000" stroke-width="0.8" />
<line x1="557.00" y1="182.60" x2="646.00" y2="182.60" stroke="#000" stroke-width="0.7" />
<line x1="557.00" y1="185.00" x2="646.00" y2="185.00" stroke="#666" stroke-width="0.5" />
<line x1="557.00" y1="239.40" x2="646.00" y2="239.40" stroke="#000" stroke-width="0.7" />
<line x1="557.00" y1="241.40" x2="646.00" y2="241.40" stroke="#000" stroke-width="0.7" />
<rect x="645.60" y="180.70" width="84.20" height="62.40" rx="2.2" fill="#fff" stroke="#000" stroke-width="0.8" />
<rect x="649.50" y="184.00" width="77.20" height="55.30" rx="0.3" fill="none" stroke="#000" stroke-width="1.4" />
<line x1="652.00" y1="181.50" x2="728.00" y2="181.50" stroke="#000" stroke-width="1.3" stroke-dasharray="17.6 1.1"/>
<line x1="652.00" y1="242.10" x2="728.00" y2="242.10" stroke="#000" stroke-width="1.3" stroke-dasharray="17.6 1.1"/>
<line x1="729.00" y1="184.00" x2="729.00" y2="240.00" stroke="#000" stroke-width="1.3" stroke-dasharray="10.2 1.1"/>
<circle cx="647.40" cy="187.00" r="0.75" fill="#000" stroke="#000" stroke-width="0"/>
<circle cx="647.40" cy="209.60" r="0.75" fill="#000" stroke="#000" stroke-width="0"/>
<circle cx="647.40" cy="232.20" r="0.75" fill="#000" stroke="#000" stroke-width="0"/>
<path d="M731.7,196.2 H763 Q766.2,196.2 766.2,199.4 V222.6 Q766.2,225.8 763,225.8 H731.7" fill="none" stroke="#000" stroke-width="0.8" />
<line x1="731.70" y1="198.00" x2="743.70" y2="198.00" stroke="#000" stroke-width="0.6" />
<line x1="757.40" y1="196.20" x2="757.40" y2="204.00" stroke="#000" stroke-width="0.7" />
<rect x="746.20" y="204.20" width="14.00" height="11.60" rx="1.2" fill="#fff" stroke="#000" stroke-width="1.1" />
<rect x="748.20" y="206.60" width="10.00" height="7.40" rx="1" fill="none" stroke="#000" stroke-width="1.0" />
<rect x="755.60" y="207.80" width="2.60" height="5.40" rx="1" fill="#000" stroke="#000" stroke-width="0" />
<line x1="749.60" y1="209.20" x2="754.60" y2="209.20" stroke="#000" stroke-width="1.1" stroke-dasharray="1.3 0.7"/>
<line x1="749.60" y1="211.80" x2="754.60" y2="211.80" stroke="#000" stroke-width="1.1" stroke-dasharray="1.3 0.7"/>
<path d="M746.2,206.2 V202.79999999999998 H753 V204.2" fill="none" stroke="#000" stroke-width="0.9" />
<rect x="746.20" y="235.00" width="14.00" height="11.60" rx="1.2" fill="#fff" stroke="#000" stroke-width="1.1" />
<rect x="748.20" y="237.40" width="10.00" height="7.40" rx="1" fill="none" stroke="#000" stroke-width="1.0" />
<rect x="755.60" y="238.60" width="2.60" height="5.40" rx="1" fill="#000" stroke="#000" stroke-width="0" />
<line x1="749.60" y1="240.00" x2="754.60" y2="240.00" stroke="#000" stroke-width="1.1" stroke-dasharray="1.3 0.7"/>
<line x1="749.60" y1="242.60" x2="754.60" y2="242.60" stroke="#000" stroke-width="1.1" stroke-dasharray="1.3 0.7"/>
<path d="M746.2,237 V233.6 H753 V235" fill="none" stroke="#000" stroke-width="0.9" />
<line x1="750.40" y1="226.00" x2="750.40" y2="234.00" stroke="#000" stroke-width="0.7" />
<line x1="757.40" y1="226.00" x2="757.40" y2="235.00" stroke="#000" stroke-width="0.7" />
<path d="M753.2,216 V219 Q753.2,221 751,221 Q749,221 749,223 V226" fill="none" stroke="#000" stroke-width="0.7" />
<path d="M843.6,96 V92.6 Q843.6,89.6 840.6,89.6 H813.4 Q810.4,89.6 810.4,92.6 V207 Q810.4,210 807.4,210 H766.2" fill="none" stroke="#000" stroke-width="0.8" />
<path d="M826.2,110.6 H823.6 Q820.8,110.6 820.8,113.4 V224.4 Q820.8,227.2 818,227.2 H746" fill="none" stroke="#000" stroke-width="0.8" />
<path d="M832.2,119 V235.4 Q832.2,238.2 829.4,238.2 H760.2" fill="none" stroke="#000" stroke-width="0.8" />
<path d="M760.2,219.2 H826.2" fill="none" stroke="#000" stroke-width="0.8" />
<path d="M760.2,240.6 H839.4 Q842.4,240.6 842.4,238" fill="none" stroke="#000" stroke-width="0.8" />
<path d="M762,213 H806 Q808,213 808,211" fill="none" stroke="#000" stroke-width="0.6" />
</g>
<g transform="translate(0 407)">
<rect x="654.60" y="79.80" width="74.10" height="19.50" rx="0" fill="none" stroke="#000" stroke-width="1.0" />
<line x1="729.00" y1="77.00" x2="729.00" y2="87.00" stroke="#000" stroke-width="1.0" />
<path d="M673,82.3 L683.5,84.2 L684.1,80.8 L685.4,83 L690.6,86.3 L698,92.5 L689.6,89.3 L686.2,88.8 L685.5,93 L680.4,88.4 L678,86.5 Z" fill="#000" stroke="#000" stroke-width="0.3" />
<line x1="557.00" y1="101.60" x2="731.70" y2="101.60" stroke="#000" stroke-width="2.4" />
<line x1="557.00" y1="143.00" x2="731.70" y2="143.00" stroke="#000" stroke-width="3.0" />
<line x1="557.00" y1="108.30" x2="731.70" y2="108.30" stroke="#000" stroke-width="1.1" />
<line x1="557.00" y1="136.80" x2="731.70" y2="136.80" stroke="#000" stroke-width="1.1" />
<rect x="573.65" y="107.65" width="40.20" height="29.40" rx="0.6" fill="#fff" stroke="#000" stroke-width="2.7" />
<rect x="573.65" y="107.65" width="40.20" height="29.40" rx="0.6" fill="none" stroke="#fff" stroke-width="0.45" stroke-dasharray="5.2 1.2"/>
<circle cx="572.90" cy="106.90" r="1.0" fill="#000" stroke="#000" stroke-width="0"/>
<circle cx="614.60" cy="106.90" r="1.0" fill="#000" stroke="#000" stroke-width="0"/>
<circle cx="572.90" cy="137.80" r="1.0" fill="#000" stroke="#000" stroke-width="0"/>
<circle cx="614.60" cy="137.80" r="1.0" fill="#000" stroke="#000" stroke-width="0"/>
<rect x="634.75" y="107.65" width="40.40" height="29.40" rx="0.6" fill="#fff" stroke="#000" stroke-width="2.7" />
<rect x="634.75" y="107.65" width="40.40" height="29.40" rx="0.6" fill="none" stroke="#fff" stroke-width="0.45" stroke-dasharray="5.2 1.2"/>
<circle cx="634.00" cy="106.90" r="1.0" fill="#000" stroke="#000" stroke-width="0"/>
<circle cx="675.90" cy="106.90" r="1.0" fill="#000" stroke="#000" stroke-width="0"/>
<circle cx="634.00" cy="137.80" r="1.0" fill="#000" stroke="#000" stroke-width="0"/>
<circle cx="675.90" cy="137.80" r="1.0" fill="#000" stroke="#000" stroke-width="0"/>
<rect x="682.05" y="107.65" width="40.40" height="29.40" rx="0.6" fill="#fff" stroke="#000" stroke-width="2.7" />
<rect x="682.05" y="107.65" width="40.40" height="29.40" rx="0.6" fill="none" stroke="#fff" stroke-width="0.45" stroke-dasharray="5.2 1.2"/>
<circle cx="681.30" cy="106.90" r="1.0" fill="#000" stroke="#000" stroke-width="0"/>
<circle cx="723.20" cy="106.90" r="1.0" fill="#000" stroke="#000" stroke-width="0"/>
<circle cx="681.30" cy="137.80" r="1.0" fill="#000" stroke="#000" stroke-width="0"/>
<circle cx="723.20" cy="137.80" r="1.0" fill="#000" stroke="#000" stroke-width="0"/>
<circle cx="614.90" cy="114.25" r="1.5" fill="#000" stroke="#000" stroke-width="0"/>
<circle cx="614.90" cy="130.10" r="1.5" fill="#000" stroke="#000" stroke-width="0"/>
<circle cx="633.60" cy="114.25" r="1.5" fill="#000" stroke="#000" stroke-width="0"/>
<circle cx="633.60" cy="130.10" r="1.5" fill="#000" stroke="#000" stroke-width="0"/>
<circle cx="724.20" cy="114.25" r="1.5" fill="#000" stroke="#000" stroke-width="0"/>
<circle cx="724.20" cy="130.10" r="1.5" fill="#000" stroke="#000" stroke-width="0"/>
<rect x="600.80" y="78.40" width="11.20" height="2.20" rx="0" fill="#fff" stroke="#000" stroke-width="0.7" />
<line x1="602.60" y1="80.60" x2="602.60" y2="87.00" stroke="#000" stroke-width="0.8" />
<line x1="610.40" y1="80.60" x2="610.40" y2="87.00" stroke="#000" stroke-width="0.8" />
<path d="M603.6,87 V89.4 Q603.6,92.4 600.6,92.4 H562.5 Q559.5,92.4 559.5,95.4 V118.6 Q559.5,121.6 562.5,121.6 H572.2" fill="none" stroke="#000" stroke-width="0.8" />
<path d="M606.5,87 V92.2 Q606.5,95.2 603.5,95.2 H565.3 Q562.3,95.2 562.3,98.2 V112.6 Q562.3,115.6 565.3,115.6 H572.2" fill="none" stroke="#000" stroke-width="0.8" />
<path d="M609.4,87 V95.0 Q609.4,98 606.4,98 H568.2 Q565.2,98 565.2,101.0 V107.2 Q565.2,110.2 568.2,110.2 H572.2" fill="none" stroke="#000" stroke-width="0.8" />
<line x1="616.00" y1="114.25" x2="632.40" y2="114.25" stroke="#000" stroke-width="0.8" />
<path d="M616,130.1 Q619.75,130.4 619.75,134.4 V150 Q619.75,153.5 623.2,153.5 H734" fill="none" stroke="#000" stroke-width="0.8" />
<path d="M621.4,114.25 V147.4 Q621.4,150.6 624.6,150.6 H734" fill="none" stroke="#000" stroke-width="0.8" />
<path d="M632.4,130.1 Q629.3,130.4 629.3,134.4 V144.5 Q629.3,147.6 632.4,147.6 H736" fill="none" stroke="#000" stroke-width="0.8" />
<path d="M725.6,114.25 H737 Q740.4,114.5 740.4,118 V206 Q740.4,210 737,210 H732" fill="none" stroke="#000" stroke-width="0.8" />
<path d="M725.6,130.1 H731.5 Q734.6,130.1 734.6,133.6 V146 Q734.6,149 737.5,149" fill="none" stroke="#000" stroke-width="0.8" />
<path d="M734,150.6 Q737.6,150.6 737.6,154 V196" fill="none" stroke="#000" stroke-width="0.8" />
<path d="M734,153.5 Q735.4,153.5 735.4,156 V196" fill="none" stroke="#000" stroke-width="0.8" />
<line x1="557.00" y1="182.60" x2="646.00" y2="182.60" stroke="#000" stroke-width="0.7" />
<line x1="557.00" y1="185.00" x2="646.00" y2="185.00" stroke="#666" stroke-width="0.5" />
<line x1="557.00" y1="239.40" x2="646.00" y2="239.40" stroke="#000" stroke-width="0.7" />
<line x1="557.00" y1="241.40" x2="646.00" y2="241.40" stroke="#000" stroke-width="0.7" />
<rect x="645.60" y="180.70" width="84.20" height="62.40" rx="2.2" fill="#fff" stroke="#000" stroke-width="0.8" />
<rect x="649.50" y="184.00" width="77.20" height="55.30" rx="0.3" fill="none" stroke="#000" stroke-width="1.4" />
<line x1="652.00" y1="181.50" x2="728.00" y2="181.50" stroke="#000" stroke-width="1.3" stroke-dasharray="17.6 1.1"/>
<line x1="652.00" y1="242.10" x2="728.00" y2="242.10" stroke="#000" stroke-width="1.3" stroke-dasharray="17.6 1.1"/>
<line x1="729.00" y1="184.00" x2="729.00" y2="240.00" stroke="#000" stroke-width="1.3" stroke-dasharray="10.2 1.1"/>
<circle cx="647.40" cy="187.00" r="0.75" fill="#000" stroke="#000" stroke-width="0"/>
<circle cx="647.40" cy="209.60" r="0.75" fill="#000" stroke="#000" stroke-width="0"/>
<circle cx="647.40" cy="232.20" r="0.75" fill="#000" stroke="#000" stroke-width="0"/>
<path d="M731.7,196.2 H763 Q766.2,196.2 766.2,199.4 V222.6 Q766.2,225.8 763,225.8 H731.7" fill="none" stroke="#000" stroke-width="0.8" />
<line x1="731.70" y1="198.00" x2="743.70" y2="198.00" stroke="#000" stroke-width="0.6" />
<line x1="757.40" y1="196.20" x2="757.40" y2="204.00" stroke="#000" stroke-width="0.7" />
<rect x="746.20" y="204.20" width="14.00" height="11.60" rx="1.2" fill="#fff" stroke="#000" stroke-width="1.1" />
<rect x="748.20" y="206.60" width="10.00" height="7.40" rx="1" fill="none" stroke="#000" stroke-width="1.0" />
<rect x="755.60" y="207.80" width="2.60" height="5.40" rx="1" fill="#000" stroke="#000" stroke-width="0" />
<line x1="749.60" y1="209.20" x2="754.60" y2="209.20" stroke="#000" stroke-width="1.1" stroke-dasharray="1.3 0.7"/>
<line x1="749.60" y1="211.80" x2="754.60" y2="211.80" stroke="#000" stroke-width="1.1" stroke-dasharray="1.3 0.7"/>
<path d="M746.2,206.2 V202.79999999999998 H753 V204.2" fill="none" stroke="#000" stroke-width="0.9" />
<rect x="746.20" y="235.00" width="14.00" height="11.60" rx="1.2" fill="#fff" stroke="#000" stroke-width="1.1" />
<rect x="748.20" y="237.40" width="10.00" height="7.40" rx="1" fill="none" stroke="#000" stroke-width="1.0" />
<rect x="755.60" y="238.60" width="2.60" height="5.40" rx="1" fill="#000" stroke="#000" stroke-width="0" />
<line x1="749.60" y1="240.00" x2="754.60" y2="240.00" stroke="#000" stroke-width="1.1" stroke-dasharray="1.3 0.7"/>
<line x1="749.60" y1="242.60" x2="754.60" y2="242.60" stroke="#000" stroke-width="1.1" stroke-dasharray="1.3 0.7"/>
<path d="M746.2,237 V233.6 H753 V235" fill="none" stroke="#000" stroke-width="0.9" />
<line x1="750.40" y1="226.00" x2="750.40" y2="234.00" stroke="#000" stroke-width="0.7" />
<line x1="757.40" y1="226.00" x2="757.40" y2="235.00" stroke="#000" stroke-width="0.7" />
<path d="M753.2,216 V219 Q753.2,221 751,221 Q749,221 749,223 V226" fill="none" stroke="#000" stroke-width="0.7" />
<path d="M843.6,96 V92.6 Q843.6,89.6 840.6,89.6 H813.4 Q810.4,89.6 810.4,92.6 V207 Q810.4,210 807.4,210 H766.2" fill="none" stroke="#000" stroke-width="0.8" />
<path d="M826.2,110.6 H823.6 Q820.8,110.6 820.8,113.4 V224.4 Q820.8,227.2 818,227.2 H746" fill="none" stroke="#000" stroke-width="0.8" />
<path d="M832.2,119 V235.4 Q832.2,238.2 829.4,238.2 H760.2" fill="none" stroke="#000" stroke-width="0.8" />
<path d="M760.2,219.2 H826.2" fill="none" stroke="#000" stroke-width="0.8" />
<path d="M760.2,240.6 H839.4 Q842.4,240.6 842.4,238" fill="none" stroke="#000" stroke-width="0.8" />
<path d="M762,213 H806 Q808,213 808,211" fill="none" stroke="#000" stroke-width="0.6" />
</g>
<line x1="149.60" y1="47.40" x2="879.30" y2="167.40" stroke="#000" stroke-width="0.95" />
<path d="M215.20,58.10 L208.07,58.35 L208.52,55.59 Z" fill="#000" stroke="#000" stroke-width="0" />
<line x1="215.80" y1="54.60" x2="212.20" y2="73.50" stroke="#000" stroke-width="0.95" />
<line x1="240.00" y1="112.70" x2="879.30" y2="167.40" stroke="#000" stroke-width="0.95" />
<line x1="239.50" y1="223.30" x2="879.30" y2="167.40" stroke="#000" stroke-width="0.95" />
<line x1="213.40" y1="74.00" x2="209.20" y2="226.00" stroke="#000" stroke-width="0.6" />
<line x1="210.80" y1="87.00" x2="206.20" y2="226.00" stroke="#000" stroke-width="0.6" />
<text x="155.00" y="43.80" font-size="8" text-anchor="start" transform="rotate(9.3 155.00 43.80)" >min.R9033</text>
<text x="441.40" y="51.60" font-size="12" text-anchor="start" textLength="89">steering: n2=-n1</text>
<g transform="translate(161.80 90.20) rotate(95.6)">
<path d="M0,-2.2 H21.9 V2.2 H0 Z" fill="#1a1a1a" stroke="#000" stroke-width="0.3" />
<line x1="0.50" y1="0.00" x2="17.90" y2="0.00" stroke="#555" stroke-width="1.0" />
<path d="M25.9,0 L14.899999999999999,-6.1 L17.299999999999997,0 L14.899999999999999,6.1 Z" fill="#111" stroke="#000" stroke-width="0.3" />
</g>
<g transform="translate(160.00 205.00) rotate(84.6)">
<path d="M0,-2.2 H21.4 V2.2 H0 Z" fill="#1a1a1a" stroke="#000" stroke-width="0.3" />
<line x1="0.50" y1="0.00" x2="17.40" y2="0.00" stroke="#555" stroke-width="1.0" />
<path d="M25.4,0 L14.399999999999999,-6.1 L16.799999999999997,0 L14.399999999999999,6.1 Z" fill="#111" stroke="#000" stroke-width="0.3" />
</g>
<g transform="translate(895.40 61.40) rotate(180)">
<path d="M0,-2.2 H21.9 V2.2 H0 Z" fill="#1a1a1a" stroke="#000" stroke-width="0.3" />
<line x1="0.50" y1="0.00" x2="17.90" y2="0.00" stroke="#555" stroke-width="1.0" />
<path d="M25.9,0 L14.899999999999999,-6.1 L17.299999999999997,0 L14.899999999999999,6.1 Z" fill="#111" stroke="#000" stroke-width="0.3" />
</g>
<g transform="translate(868.80 271.70) rotate(0)">
<path d="M0,-2.2 H21.9 V2.2 H0 Z" fill="#1a1a1a" stroke="#000" stroke-width="0.3" />
<line x1="0.50" y1="0.00" x2="17.90" y2="0.00" stroke="#555" stroke-width="1.0" />
<path d="M25.9,0 L14.899999999999999,-6.1 L17.299999999999997,0 L14.899999999999999,6.1 Z" fill="#111" stroke="#000" stroke-width="0.3" />
</g>
<line x1="198.30" y1="441.60" x2="879.30" y2="736.20" stroke="#000" stroke-width="0.95" />
<path d="M230.80,455.60 L223.82,454.11 L224.93,451.54 Z" fill="#000" stroke="#000" stroke-width="0" />
<text x="204.00" y="438.80" font-size="8" text-anchor="start" transform="rotate(23.393266441538156 204.00 438.80)" >R4</text>
<line x1="236.00" y1="526.00" x2="879.30" y2="736.20" stroke="#000" stroke-width="0.95" />
<line x1="238.00" y1="637.70" x2="879.30" y2="736.20" stroke="#000" stroke-width="0.95" />
<line x1="165.00" y1="689.40" x2="879.30" y2="736.20" stroke="#000" stroke-width="0.95" />
<path d="M201.80,691.80 L194.72,692.74 L194.91,689.95 Z" fill="#000" stroke="#000" stroke-width="0" />
<text x="170.60" y="685.20" font-size="8" text-anchor="start" transform="rotate(3.7485866701170747 170.60 685.20)" >R3</text>
<path d="M176.69,667.06 A706.0,706.0 0 0 1 233.09,451.86" fill="none" stroke="#000" stroke-width="0.95" />
<path d="M202.19,695.97 A678.3,678.3 0 0 1 234.38,526.03" fill="none" stroke="#000" stroke-width="0.95" />
<line x1="988.40" y1="503.80" x2="879.30" y2="736.20" stroke="#000" stroke-width="0.95" />
<path d="M896.91,517.31 A219.6,219.6 0 0 1 976.60,539.33" fill="none" stroke="#000" stroke-width="0.95" />
<path d="M972.62,537.41 L974.24,530.44 L976.95,531.72 Z" fill="#000" stroke="#000" stroke-width="0" />
<text x="978.00" y="515.60" font-size="8" text-anchor="start" transform="rotate(295.14767167329455 978.00 515.60)" >R2</text>
<line x1="933.60" y1="599.80" x2="879.30" y2="736.20" stroke="#000" stroke-width="0.95" />
<path d="M895.27,633.03 A104.4,104.4 0 0 1 921.76,640.83" fill="none" stroke="#000" stroke-width="0.95" />
<path d="M917.91,639.20 L919.11,632.15 L921.90,633.25 Z" fill="#000" stroke="#000" stroke-width="0" />
<text x="924.40" y="611.60" font-size="8" text-anchor="start" transform="rotate(291.70719693103064 924.40 611.60)" >R1</text>
<line x1="879.30" y1="669.50" x2="879.30" y2="736.20" stroke="#000" stroke-width="0.95" />
<text x="424.80" y="412.80" font-size="12" text-anchor="start" xml:space="preserve" textLength="201.4">steering: n2&gt;n1, and  same direction</text>
<text x="933.30" y="415.80" font-size="12" text-anchor="start" textLength="85">motor speed n2</text>
<path d="M933.2,415.8 H917.6 L890.2,465.6" fill="none" stroke="#000" stroke-width="0.95" />
<path d="M889.20,467.40 L893.03,456.38 L896.45,458.26 Z" fill="#000" stroke="#000" stroke-width="0" />
<text x="912.00" y="734.40" font-size="12" text-anchor="start" textLength="85">motor speed n1</text>
<path d="M912,734.4 H896.8 L883.2,678" fill="none" stroke="#000" stroke-width="0.95" />
<path d="M882.50,675.20 L887.08,685.93 L883.29,686.84 Z" fill="#000" stroke="#000" stroke-width="0" />
<text x="912.80" y="774.00" font-size="12" text-anchor="start" textLength="81.6">steering center</text>
<path d="M912.8,774 H896.8 L881.4,741" fill="none" stroke="#000" stroke-width="0.95" />
<path d="M880.40,738.40 L887.03,748.00 L883.49,749.65 Z" fill="#000" stroke="#000" stroke-width="0" />
<g transform="translate(168.40 498.50) rotate(111.5)">
<path d="M0,-2.2 H21.7 V2.2 H0 Z" fill="#1a1a1a" stroke="#000" stroke-width="0.3" />
<line x1="0.50" y1="0.00" x2="17.70" y2="0.00" stroke="#555" stroke-width="1.0" />
<path d="M25.7,0 L14.7,-6.1 L17.099999999999998,0 L14.7,6.1 Z" fill="#111" stroke="#000" stroke-width="0.3" />
</g>
<g transform="translate(166.00 612.00) rotate(98.2)">
<path d="M0,-2.2 H21.3 V2.2 H0 Z" fill="#1a1a1a" stroke="#000" stroke-width="0.3" />
<line x1="0.50" y1="0.00" x2="17.30" y2="0.00" stroke="#555" stroke-width="1.0" />
<path d="M25.3,0 L14.3,-6.1 L16.7,0 L14.3,6.1 Z" fill="#111" stroke="#000" stroke-width="0.3" />
</g>
<g transform="translate(895.40 467.90) rotate(180)">
<path d="M0,-2.2 H21.4 V2.2 H0 Z" fill="#1a1a1a" stroke="#000" stroke-width="0.3" />
<line x1="0.50" y1="0.00" x2="17.40" y2="0.00" stroke="#555" stroke-width="1.0" />
<path d="M25.4,0 L14.399999999999999,-6.1 L16.799999999999997,0 L14.399999999999999,6.1 Z" fill="#111" stroke="#000" stroke-width="0.3" />
</g>
<g transform="translate(886.70 672.40) rotate(180)">
<path d="M0,-1.25 H9.1 V1.25 H0 Z" fill="#1a1a1a" stroke="#000" stroke-width="0.3" />
<line x1="0.50" y1="0.00" x2="5.10" y2="0.00" stroke="#555" stroke-width="1.0" />
<path d="M13.1,0 L8.1,-3.0 L10.5,0 L8.1,3.0 Z" fill="#111" stroke="#000" stroke-width="0.3" />
</g>
<text x="583.20" y="118.40" font-size="5.2" text-anchor="start" >Battery</text>
<text x="583.20" y="124.60" font-size="5.2" text-anchor="start" >charging</text>
<text x="583.20" y="130.80" font-size="5.2" text-anchor="start" >system</text>
<text x="642.20" y="118.70" font-size="5.2" text-anchor="start" >Battery</text>
<text x="642.20" y="124.90" font-size="5.2" text-anchor="start" >heating</text>
<text x="642.20" y="131.10" font-size="5.2" text-anchor="start" >system</text>
<text x="688.90" y="122.20" font-size="5.2" text-anchor="start" >PDU/BMS</text>
<text x="662.60" y="210.60" font-size="10.35" text-anchor="start" >LI Battery</text>
<text x="662.60" y="222.50" font-size="10.35" text-anchor="start" >Package</text>
<text x="583.20" y="525.40" font-size="5.2" text-anchor="start" >Battery</text>
<text x="583.20" y="531.60" font-size="5.2" text-anchor="start" >charging</text>
<text x="583.20" y="537.80" font-size="5.2" text-anchor="start" >system</text>
<text x="642.20" y="525.70" font-size="5.2" text-anchor="start" >Battery</text>
<text x="642.20" y="531.90" font-size="5.2" text-anchor="start" >heating</text>
<text x="642.20" y="538.10" font-size="5.2" text-anchor="start" >system</text>
<text x="688.90" y="529.20" font-size="5.2" text-anchor="start" >PDU/BMS</text>
<text x="662.60" y="617.60" font-size="10.35" text-anchor="start" >LI Battery</text>
<text x="662.60" y="629.50" font-size="10.35" text-anchor="start" >Package</text>
</svg>
</body></html>
